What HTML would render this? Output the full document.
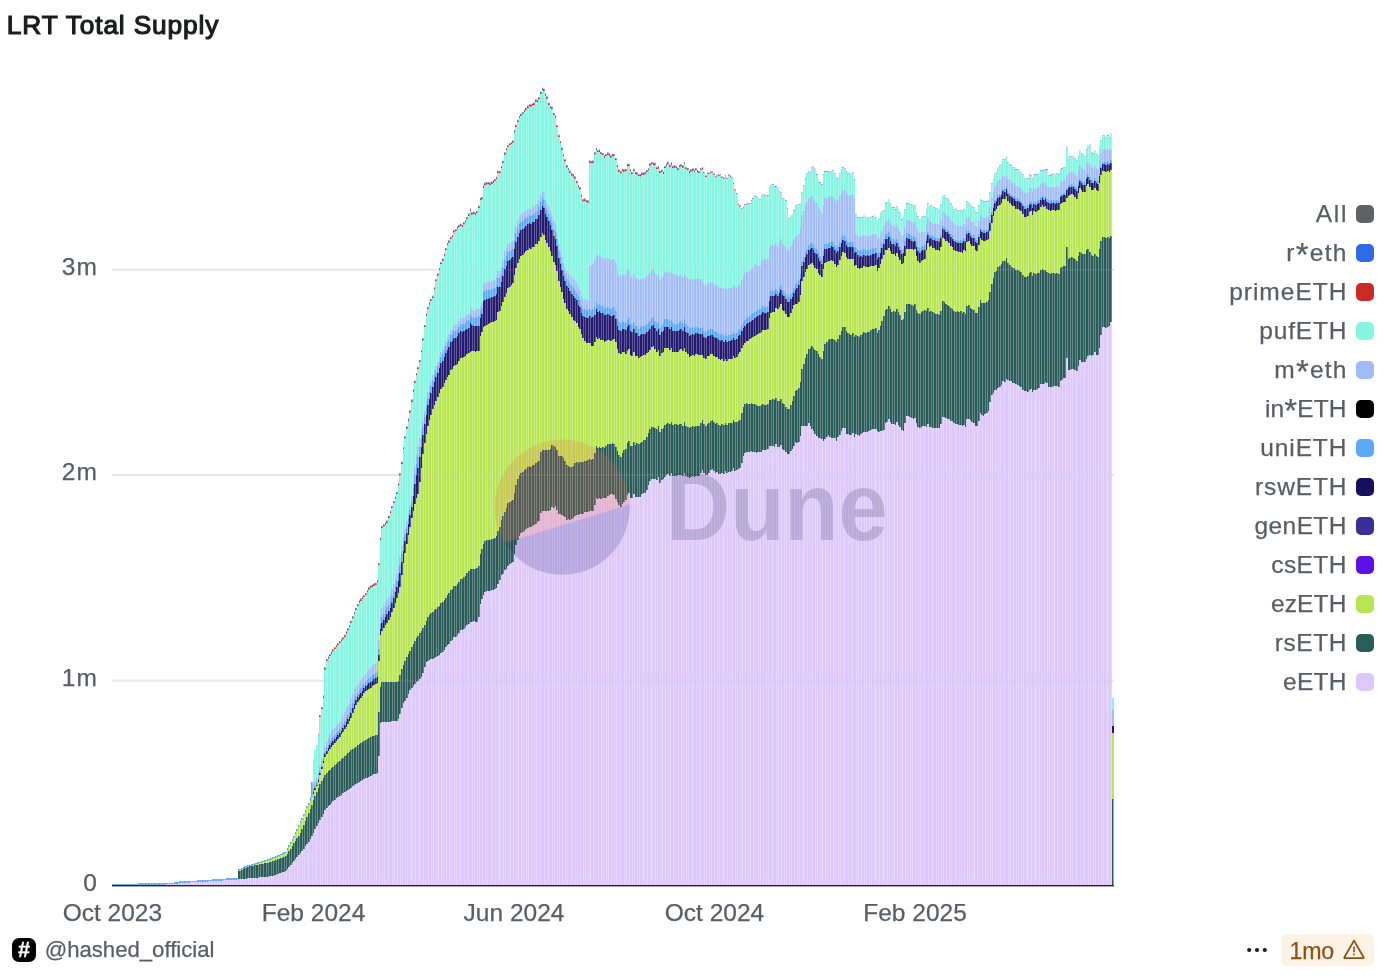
<!DOCTYPE html>
<html lang="en">
<head>
<meta charset="utf-8">
<title>LRT Total Supply</title>
<style>
html,body{margin:0;padding:0;background:#fff;}
body{width:1384px;height:978px;position:relative;overflow:hidden;font-family:"Liberation Sans",sans-serif;color:#5b5d64;}
.chart{position:absolute;left:0;top:0;}
.title{position:absolute;left:6.8px;top:8.3px;font-size:26.3px;font-weight:400;color:#1b1c20;-webkit-text-stroke:1.15px #1b1c20;line-height:34px;white-space:nowrap;letter-spacing:0.85px;}
.yl{position:absolute;right:1287.2px;font-size:24.5px;letter-spacing:1px;margin-right:-1px;line-height:28px;height:28px;white-space:nowrap;text-align:right;}
.xl{position:absolute;top:899px;width:160px;margin-left:-80px;text-align:center;font-size:24.5px;line-height:28px;white-space:nowrap;}
.lg{position:absolute;right:10px;top:194px;}
.li{height:39px;display:flex;align-items:center;justify-content:flex-end;font-size:24.5px;white-space:nowrap;}
.li span{display:inline-block;margin-right:11px;}
.as{font-style:normal;font-size:33px;line-height:0;position:relative;top:5.5px;}
.li,.yl,.xl,.foot{-webkit-text-stroke:0.25px #5b5d64;}
.li i{display:block;width:18px;height:18px;border-radius:5px;}
.foot{position:absolute;left:12px;top:938px;height:24px;display:flex;align-items:center;font-size:22.15px;}
.hash{width:24px;height:24px;border-radius:7px;background:#000;color:#fff;font-weight:700;font-style:italic;font-size:21.5px;line-height:24.5px;text-align:center;margin-right:8.7px;-webkit-text-stroke:0.3px #fff;flex:none;text-indent:-0.5px;}
.dots{position:absolute;left:1246px;top:947px;width:24px;height:6px;}
.badge{position:absolute;left:1281px;top:934px;width:93px;height:32px;border-radius:6px;background:#fcf3e6;color:#8b5313;font-size:23.2px;line-height:32px;-webkit-text-stroke:0.25px #8b5313;}
.badge span{position:absolute;left:8.6px;top:1px;letter-spacing:-0.3px;}
.badge svg{position:absolute;left:61px;top:4.3px;}
</style>
</head>
<body>
<svg class="chart" width="1384" height="978" viewBox="0 0 1384 978">
<defs><clipPath id="cp"><path d="M112,885.8V883.8H115V883.7H123V883.6H131V883.5H138V883.4H146V883.3H151V883.2H154V883.1H158V883.0H159V882.9H163V882.8H166V882.7H169V882.6H172V882.5H174V882.4H177V882.3H179V881.3H180V881.2H182V881.1H184V881.0H187V880.9H189V880.8H190V880.7H192V880.6H195V880.5H197V880.4H198V880.3H200V880.2H202V880.1H203V880.0H205V879.9H207V879.8H208V879.7H210V879.6H212V879.4H213V879.3H215V879.2H216V879.1H218V879.0H220V878.9H221V878.8H223V878.7H225V878.6H226V878.4H228V878.3H229V878.2H231V878.1H233V878.0H234V877.9H236V877.8H238V869.4H239V868.7H241V867.9H243V867.2H244V866.4H246V865.7H247V865.0H249V864.5H251V864.0H252V863.5H254V863.0H256V862.6H257V862.1H259V861.6H261V861.1H262V860.6H264V860.1H265V859.7H267V859.2H269V858.7H270V858.0H272V857.3H274V856.6H275V855.9H277V855.2H279V854.5H280V853.7H282V853.0H283V852.3H285V851.5H287V848.4H288V845.3H290V842.3H292V839.2H293V836.1H295V832.4H296V828.7H298V825.0H300V821.4H301V817.7H303V813.9H305V810.1H306V806.3H308V802.6H310V797.3H311V781.8H313V758.8H314V750.4H316V744.7H318V733.8H319V715.0H321V707.1H323V695.6H324V667.4H326V659.0H328V656.5H329V654.1H331V651.6H332V649.2H334V647.0H336V645.0H337V643.1H339V641.1H341V639.1H342V637.2H344V634.7H346V631.4H347V628.2H349V624.9H350V620.7H352V616.2H354V611.8H355V607.9H357V604.0H359V600.5H360V598.6H362V596.8H363V594.9H365V593.0H367V590.2H368V587.4H370V585.5H372V584.5H373V583.6H375V582.7H377V580.1H378V563.0H380V537.6H381V526.0H383V524.2H385V522.4H386V520.6H388V515.7H390V510.8H391V505.9H393V501.0H395V496.5H396V492.1H398V483.2H399V473.3H401V461.7H403V447.0H404V436.2H406V426.4H408V418.6H409V410.5H411V399.6H413V389.4H414V380.7H416V373.1H417V366.8H419V359.9H421V350.0H422V338.2H424V324.9H426V313.6H427V306.8H429V302.5H430V299.0H432V295.8H434V287.2H435V279.1H437V273.5H439V268.0H440V262.0H442V258.6H444V253.7H445V247.9H447V243.0H448V240.5H450V236.8H452V234.9H453V230.3H455V229.1H457V226.5H458V224.8H460V223.8H462V224.7H463V222.3H465V220.0H466V217.1H468V213.6H470V208.6H471V212.5H473V211.7H475V212.7H476V210.9H478V205.7H480V197.8H481V197.3H483V185.6H484V182.6H486V182.3H488V182.1H489V182.6H491V181.6H493V180.4H494V179.1H496V176.7H497V170.7H499V171.1H501V166.1H502V160.7H504V152.5H506V148.3H507V144.9H509V143.1H511V142.1H512V140.5H514V130.3H515V124.7H517V119.8H519V115.8H520V113.7H522V112.0H524V109.7H525V107.7H527V105.6H529V103.9H530V104.5H532V103.4H533V102.6H535V99.5H537V99.9H538V97.2H540V91.7H542V87.7H543V88.7H545V93.4H546V96.5H548V102.7H550V106.0H551V106.7H553V112.9H555V115.4H556V125.1H558V134.7H560V141.1H561V147.6H563V154.0H564V159.2H566V165.3H568V168.1H569V170.6H571V173.4H573V174.5H574V176.5H576V180.8H578V184.8H579V187.3H581V194.5H582V199.3H584V198.6H586V199.9H587V200.5H589V160.6H591V160.9H592V160.6H594V152.2H596V148.0H597V149.9H599V149.6H600V151.9H602V153.0H604V155.6H605V153.9H607V152.6H609V153.4H610V155.5H612V153.8H613V154.1H615V158.1H617V165.1H618V169.6H620V171.2H622V168.8H623V169.4H625V169.1H627V164.0H628V163.7H630V169.3H631V172.1H633V168.8H635V172.0H636V172.2H638V174.0H640V174.3H641V172.6H643V172.5H645V171.8H646V170.0H648V168.2H649V163.5H651V162.0H653V162.6H654V162.8H656V166.8H658V166.4H659V170.7H661V169.8H663V171.7H664V166.0H666V163.6H667V161.8H669V164.6H671V162.4H672V165.8H674V165.5H676V166.1H677V167.7H679V165.0H680V164.2H682V165.4H684V162.0H685V167.1H687V168.1H689V170.8H690V169.4H692V168.5H694V169.8H695V167.9H697V170.0H698V171.1H700V168.1H702V167.3H703V171.9H705V175.4H707V172.6H708V172.7H710V171.2H712V171.1H713V173.4H715V176.1H716V175.2H718V174.6H720V174.0H721V176.4H723V177.6H725V175.2H726V177.8H728V174.6H730V175.5H731V177.2H733V182.5H734V189.3H736V192.9H738V203.5H739V205.5H741V208.2H743V206.9H744V204.1H746V203.8H747V203.6H749V203.2H751V200.3H752V198.1H754V195.8H756V196.3H757V197.7H759V199.6H761V195.8H762V194.2H764V195.1H765V195.0H767V195.3H769V187.4H770V184.9H772V184.3H774V186.1H775V186.3H777V187.8H779V191.6H780V192.6H782V198.3H783V198.8H785V200.1H787V208.1H788V218.6H790V215.8H792V214.8H793V210.3H795V205.5H796V204.8H798V204.4H800V203.8H801V191.9H803V185.2H805V178.1H806V173.2H808V171.5H810V172.2H811V167.6H813V166.2H814V168.7H816V174.3H818V179.8H819V182.1H821V184.3H823V174.2H824V171.1H826V171.3H828V171.1H829V172.6H831V171.0H832V170.6H834V173.4H836V177.4H837V178.5H839V172.8H841V169.4H842V167.1H844V168.2H846V171.3H847V173.6H849V173.2H850V173.7H852V172.6H854V179.1H855V214.2H857V217.1H859V217.5H860V217.0H862V217.5H863V215.7H865V216.8H867V217.9H868V217.6H870V216.7H872V216.3H873V215.8H875V216.9H877V221.8H878V219.2H880V213.2H881V211.2H883V210.6H885V203.1H886V201.9H888V199.8H890V203.5H891V207.4H893V207.1H895V209.1H896V205.9H898V209.5H899V212.5H901V219.1H903V217.5H904V209.2H906V203.3H908V203.6H909V203.7H911V204.5H913V206.0H914V205.5H916V212.5H917V216.4H919V219.0H921V217.2H922V216.2H924V216.4H926V208.9H927V202.9H929V206.9H930V204.9H932V206.7H934V207.1H935V208.4H937V208.7H939V210.0H940V204.2H942V195.8H944V195.0H945V198.6H947V198.4H948V199.8H950V203.4H952V206.0H953V208.9H955V208.8H957V209.9H958V210.0H962V211.3H963V209.4H965V210.7H966V200.9H968V202.7H970V204.6H971V206.5H973V207.4H975V210.7H976V212.5H978V205.6H980V199.0H981V200.4H983V200.9H986V201.1H988V200.4H989V192.0H991V183.5H993V179.0H994V173.2H996V172.6H997V167.7H999V165.6H1001V164.5H1002V159.6H1004V159.2H1006V157.5H1007V161.9H1009V164.4H1011V165.3H1012V166.9H1014V167.2H1015V169.3H1017V169.6H1019V170.7H1020V172.0H1022V174.4H1024V177.8H1025V178.8H1027V178.1H1029V174.1H1030V175.4H1032V178.2H1033V174.4H1035V174.3H1037V174.2H1038V173.8H1040V170.1H1042V169.5H1043V170.3H1045V169.1H1046V169.3H1048V175.0H1050V175.1H1051V174.1H1053V173.8H1055V174.8H1056V173.2H1058V174.1H1060V168.9H1061V168.3H1063V167.0H1064V166.9H1066V146.8H1068V157.7H1069V156.6H1071V155.8H1073V156.6H1074V158.5H1076V160.0H1078V155.7H1079V150.7H1081V153.2H1082V154.2H1084V156.5H1086V149.3H1087V145.7H1089V144.8H1091V152.4H1092V153.1H1094V150.8H1096V153.5H1097V154.9H1099V146.9H1100V139.9H1102V135.4H1104V135.2H1105V136.8H1107V135.1H1109V136.9H1110V133.7H1112V885.8Z"/></clipPath></defs>
<rect x="112" y="268.70" width="1002" height="2" fill="#e9e9ee"/>
<rect x="112" y="474.00" width="1002" height="2" fill="#e9e9ee"/>
<rect x="112" y="679.65" width="1002" height="2" fill="#e9e9ee"/>
<path d="M318,734.0h1v0.60h-1zM319,715.6h2v1.70h-2zM321,707.7h2v1.70h-2zM323,696.2h1v1.70h-1zM324,668.0h2v1.70h-2zM326,659.6h2v1.70h-2zM328,657.1h1v1.70h-1zM329,654.7h2v1.70h-2zM331,652.2h1v1.70h-1zM332,649.8h2v1.70h-2zM334,647.6h2v1.70h-2zM336,645.6h1v1.70h-1zM337,643.7h2v1.70h-2zM339,641.7h2v1.70h-2zM341,639.7h1v1.70h-1zM342,637.8h2v1.70h-2zM344,635.3h2v1.70h-2zM346,632.0h1v1.70h-1zM347,628.8h2v1.70h-2zM349,625.5h1v1.70h-1zM350,621.3h2v1.70h-2zM352,616.8h2v1.70h-2zM354,612.4h1v1.70h-1zM355,608.5h2v1.70h-2zM357,604.6h2v1.70h-2zM359,601.1h1v1.70h-1zM360,599.2h2v1.70h-2zM362,597.4h1v1.70h-1zM363,595.5h2v1.70h-2zM365,593.6h2v1.70h-2zM367,590.8h1v1.70h-1zM368,588.0h2v1.70h-2zM370,586.1h2v1.70h-2zM372,585.1h1v1.70h-1zM373,584.2h2v1.70h-2zM375,583.3h2v1.70h-2zM377,580.7h1v1.70h-1zM378,563.6h2v1.70h-2zM380,538.2h1v1.70h-1zM381,526.6h2v1.70h-2zM383,524.8h2v1.70h-2zM385,523.0h1v1.70h-1zM386,521.2h2v1.70h-2zM388,516.3h2v1.70h-2zM390,511.4h1v1.70h-1zM391,506.5h2v1.70h-2zM393,501.6h2v1.70h-2zM395,497.1h1v1.70h-1zM396,492.7h2v1.70h-2zM398,483.8h1v1.70h-1zM399,473.9h2v1.70h-2zM401,462.3h2v1.70h-2zM403,447.6h1v1.70h-1zM404,436.8h2v1.70h-2zM406,427.0h2v1.70h-2zM408,419.2h1v1.70h-1zM409,411.1h2v1.70h-2zM411,400.2h2v1.70h-2zM413,390.0h1v1.70h-1zM414,381.3h2v1.70h-2zM416,373.7h1v1.70h-1zM417,367.4h2v1.70h-2zM419,360.5h2v1.70h-2zM421,350.6h1v1.70h-1zM422,338.8h2v1.70h-2zM424,325.5h2v1.70h-2zM426,314.2h1v1.70h-1zM427,307.4h2v1.70h-2zM429,303.1h1v1.70h-1zM430,299.6h2v1.70h-2zM432,296.4h2v1.70h-2zM434,287.8h1v1.70h-1zM435,279.7h2v1.70h-2zM437,274.1h2v1.70h-2zM439,268.6h1v1.70h-1zM440,262.6h2v1.70h-2zM442,259.2h2v1.70h-2zM444,254.3h1v1.70h-1zM445,248.5h2v1.70h-2zM447,243.6h1v1.70h-1zM448,241.1h2v1.70h-2zM450,237.4h2v1.70h-2zM452,235.5h1v1.70h-1zM453,230.9h2v1.70h-2zM455,229.7h2v1.70h-2zM457,227.1h1v1.70h-1zM458,225.4h2v1.70h-2zM460,224.4h2v1.70h-2zM462,225.3h1v1.70h-1zM463,222.9h2v1.70h-2zM465,220.6h1v1.70h-1zM466,217.7h2v1.70h-2zM468,214.2h2v1.70h-2zM470,209.2h1v1.70h-1zM471,213.1h2v1.70h-2zM473,212.3h2v1.70h-2zM475,213.3h1v1.70h-1zM476,211.5h2v1.70h-2zM478,206.3h2v1.70h-2zM480,198.4h1v1.70h-1zM481,197.9h2v1.70h-2zM483,186.2h1v1.70h-1zM484,183.2h2v1.70h-2zM486,182.9h2v1.70h-2zM488,182.7h1v1.70h-1zM489,183.2h2v1.70h-2zM491,182.2h2v1.70h-2zM493,181.0h1v1.70h-1zM494,179.7h2v1.70h-2zM496,177.3h1v1.70h-1zM497,171.3h2v1.70h-2zM499,171.7h2v1.70h-2zM501,166.7h1v1.70h-1zM502,161.3h2v1.70h-2zM504,153.1h2v1.70h-2zM506,148.9h1v1.70h-1zM507,145.5h2v1.70h-2zM509,143.7h2v1.70h-2zM511,142.7h1v1.70h-1zM512,141.1h2v1.70h-2zM514,130.9h1v1.70h-1zM515,125.3h2v1.70h-2zM517,120.4h2v1.70h-2zM519,116.4h1v1.70h-1zM520,114.3h2v1.70h-2zM522,112.6h2v1.70h-2zM524,110.3h1v1.70h-1zM525,108.3h2v1.70h-2zM527,106.2h2v1.70h-2zM529,104.5h1v1.70h-1zM530,105.1h2v1.70h-2zM532,104.0h1v1.70h-1zM533,103.2h2v1.70h-2zM535,100.1h2v1.70h-2zM537,100.5h1v1.70h-1zM538,97.8h2v1.70h-2zM540,92.3h2v1.70h-2zM542,88.3h1v1.70h-1zM543,89.3h2v1.70h-2zM545,94.0h1v1.70h-1zM546,97.1h2v1.70h-2zM548,103.3h2v1.70h-2zM550,106.6h1v1.70h-1zM551,107.3h2v1.70h-2zM553,113.5h2v1.70h-2zM555,116.0h1v1.70h-1zM556,125.7h2v1.70h-2zM558,135.3h2v1.70h-2zM560,141.7h1v1.70h-1zM561,148.2h2v1.70h-2zM563,154.6h1v1.70h-1zM564,159.8h2v1.70h-2zM566,165.9h2v1.70h-2zM568,168.7h1v1.70h-1zM569,171.2h2v1.70h-2zM571,174.0h2v1.70h-2zM573,175.1h1v1.70h-1zM574,177.1h2v1.70h-2zM576,181.4h2v1.70h-2zM578,185.4h1v1.70h-1zM579,187.9h2v1.70h-2zM581,195.1h1v1.70h-1zM582,199.9h2v1.70h-2zM584,199.2h2v1.70h-2zM586,200.5h1v1.70h-1zM587,201.1h2v1.70h-2zM589,161.2h2v1.70h-2zM591,161.5h1v1.70h-1zM592,161.2h2v1.70h-2zM594,152.8h2v1.70h-2zM596,148.6h1v1.70h-1zM597,150.5h2v1.70h-2zM599,150.2h1v1.70h-1zM600,152.5h2v1.70h-2zM602,153.6h2v1.70h-2zM604,156.2h1v1.70h-1zM605,154.5h2v1.70h-2zM607,153.2h2v1.70h-2zM609,154.0h1v1.70h-1zM610,156.1h2v1.70h-2zM612,154.4h1v1.70h-1zM613,154.7h2v1.70h-2zM615,158.7h2v1.70h-2zM617,165.7h1v1.70h-1zM618,170.2h2v1.70h-2zM620,171.8h2v1.70h-2zM622,169.4h1v1.70h-1zM623,170.0h2v1.70h-2zM625,169.7h2v1.70h-2zM627,164.6h1v1.70h-1zM628,164.3h2v1.70h-2zM630,169.9h1v1.70h-1zM631,172.7h2v1.70h-2zM633,169.4h2v1.70h-2zM635,172.6h1v1.70h-1zM636,172.8h2v1.70h-2zM638,174.6h2v1.70h-2zM640,174.9h1v1.70h-1zM641,173.2h2v1.70h-2zM643,173.1h2v1.70h-2zM645,172.4h1v1.70h-1zM646,170.6h2v1.70h-2zM648,168.8h1v1.70h-1zM649,164.1h2v1.70h-2zM651,162.6h2v1.70h-2zM653,163.2h1v1.70h-1zM654,163.4h2v1.70h-2zM656,167.4h2v1.70h-2zM658,167.0h1v1.70h-1zM659,171.3h2v1.70h-2zM661,170.4h2v1.70h-2zM663,172.3h1v1.70h-1zM664,166.6h2v1.70h-2zM666,164.2h1v1.70h-1zM667,162.4h2v1.70h-2zM669,165.2h2v1.70h-2zM671,163.0h1v1.70h-1zM672,166.4h2v1.70h-2zM674,166.1h2v1.70h-2zM676,166.7h1v1.70h-1zM677,168.3h2v1.70h-2zM679,165.6h1v1.70h-1zM680,164.8h2v1.70h-2zM682,166.0h2v1.70h-2zM684,162.6h1v1.70h-1zM685,167.7h2v1.70h-2zM687,168.7h2v1.70h-2zM689,171.4h1v1.70h-1zM690,170.0h2v1.64h-2zM692,169.1h2v1.56h-2zM694,170.4h1v1.47h-1zM695,168.5h2v1.39h-2zM697,170.6h1v1.31h-1zM698,171.7h2v1.23h-2zM700,168.7h2v1.15h-2zM702,167.9h1v1.07h-1zM703,172.5h2v0.98h-2zM705,176.0h2v0.90h-2zM707,173.2h1v0.88h-1zM708,173.3h2v0.87h-2zM710,171.8h2v0.85h-2zM712,171.7h1v0.83h-1zM713,174.0h2v0.82h-2zM715,176.7h1v0.80h-1zM716,175.8h2v0.78h-2zM718,175.2h2v0.77h-2zM720,174.6h1v0.75h-1zM721,177.0h2v0.73h-2zM723,178.2h2v0.72h-2zM725,175.8h1v0.70h-1zM726,178.4h2v0.68h-2zM728,175.2h2v0.67h-2zM730,176.1h1v0.65h-1zM731,177.8h2v0.63h-2zM733,183.1h1v0.62h-1zM734,189.9h2v0.60h-2zM736,193.5h2v0.58h-2zM738,204.1h1v0.57h-1zM739,206.1h2v0.55h-2zM741,208.8h2v0.53h-2zM743,207.5h1v0.51h-1zM744,204.7h2v0.49h-2zM746,204.4h1v0.44h-1zM747,204.2h2v0.39h-2zM749,203.8h2v0.33h-2zM751,200.9h1v0.28h-1zM752,198.7h2v0.22h-2zM754,196.4h2v0.17h-2zM756,196.9h1v0.11h-1zM757,198.3h2v0.06h-2z" fill="#cc2a27"/><path d="M318,733.8h1v0.21h-1zM319,715.0h2v0.60h-2zM321,707.1h2v0.60h-2zM323,695.6h1v0.60h-1zM324,667.4h2v0.60h-2zM326,659.0h2v0.60h-2zM328,656.5h1v0.60h-1zM329,654.1h2v0.60h-2zM331,651.6h1v0.60h-1zM332,649.2h2v0.60h-2zM334,647.0h2v0.60h-2zM336,645.0h1v0.60h-1zM337,643.1h2v0.60h-2zM339,641.1h2v0.60h-2zM341,639.1h1v0.60h-1zM342,637.2h2v0.60h-2zM344,634.7h2v0.60h-2zM346,631.4h1v0.60h-1zM347,628.2h2v0.60h-2zM349,624.9h1v0.60h-1zM350,620.7h2v0.60h-2zM352,616.2h2v0.60h-2zM354,611.8h1v0.60h-1zM355,607.9h2v0.60h-2zM357,604.0h2v0.60h-2zM359,600.5h1v0.60h-1zM360,598.6h2v0.60h-2zM362,596.8h1v0.60h-1zM363,594.9h2v0.60h-2zM365,593.0h2v0.60h-2zM367,590.2h1v0.60h-1zM368,587.4h2v0.60h-2zM370,585.5h2v0.60h-2zM372,584.5h1v0.60h-1zM373,583.6h2v0.60h-2zM375,582.7h2v0.60h-2zM377,580.1h1v0.60h-1zM378,563.0h2v0.60h-2zM380,537.6h1v0.60h-1zM381,526.0h2v0.60h-2zM383,524.2h2v0.60h-2zM385,522.4h1v0.60h-1zM386,520.6h2v0.60h-2zM388,515.7h2v0.60h-2zM390,510.8h1v0.60h-1zM391,505.9h2v0.60h-2zM393,501.0h2v0.60h-2zM395,496.5h1v0.60h-1zM396,492.1h2v0.60h-2zM398,483.2h1v0.60h-1zM399,473.3h2v0.60h-2zM401,461.7h2v0.60h-2zM403,447.0h1v0.60h-1zM404,436.2h2v0.60h-2zM406,426.4h2v0.60h-2zM408,418.6h1v0.60h-1zM409,410.5h2v0.60h-2zM411,399.6h2v0.60h-2zM413,389.4h1v0.60h-1zM414,380.7h2v0.60h-2zM416,373.1h1v0.60h-1zM417,366.8h2v0.60h-2zM419,359.9h2v0.60h-2zM421,350.0h1v0.60h-1zM422,338.2h2v0.60h-2zM424,324.9h2v0.60h-2zM426,313.6h1v0.60h-1zM427,306.8h2v0.60h-2zM429,302.5h1v0.60h-1zM430,299.0h2v0.60h-2zM432,295.8h2v0.60h-2zM434,287.2h1v0.60h-1zM435,279.1h2v0.60h-2zM437,273.5h2v0.60h-2zM439,268.0h1v0.60h-1zM440,262.0h2v0.60h-2zM442,258.6h2v0.60h-2zM444,253.7h1v0.60h-1zM445,247.9h2v0.60h-2zM447,243.0h1v0.60h-1zM448,240.5h2v0.60h-2zM450,236.8h2v0.60h-2zM452,234.9h1v0.60h-1zM453,230.3h2v0.60h-2zM455,229.1h2v0.60h-2zM457,226.5h1v0.60h-1zM458,224.8h2v0.60h-2zM460,223.8h2v0.60h-2zM462,224.7h1v0.60h-1zM463,222.3h2v0.60h-2zM465,220.0h1v0.60h-1zM466,217.1h2v0.60h-2zM468,213.6h2v0.60h-2zM470,208.6h1v0.60h-1zM471,212.5h2v0.60h-2zM473,211.7h2v0.60h-2zM475,212.7h1v0.60h-1zM476,210.9h2v0.60h-2zM478,205.7h2v0.60h-2zM480,197.8h1v0.60h-1zM481,197.3h2v0.60h-2zM483,185.6h1v0.60h-1zM484,182.6h2v0.60h-2zM486,182.3h2v0.60h-2zM488,182.1h1v0.60h-1zM489,182.6h2v0.60h-2zM491,181.6h2v0.60h-2zM493,180.4h1v0.60h-1zM494,179.1h2v0.60h-2zM496,176.7h1v0.60h-1zM497,170.7h2v0.60h-2zM499,171.1h2v0.60h-2zM501,166.1h1v0.60h-1zM502,160.7h2v0.60h-2zM504,152.5h2v0.60h-2zM506,148.3h1v0.60h-1zM507,144.9h2v0.60h-2zM509,143.1h2v0.60h-2zM511,142.1h1v0.60h-1zM512,140.5h2v0.60h-2zM514,130.3h1v0.60h-1zM515,124.7h2v0.60h-2zM517,119.8h2v0.60h-2zM519,115.8h1v0.60h-1zM520,113.7h2v0.60h-2zM522,112.0h2v0.60h-2zM524,109.7h1v0.60h-1zM525,107.7h2v0.60h-2zM527,105.6h2v0.60h-2zM529,103.9h1v0.60h-1zM530,104.5h2v0.60h-2zM532,103.4h1v0.60h-1zM533,102.6h2v0.60h-2zM535,99.5h2v0.60h-2zM537,99.9h1v0.60h-1zM538,97.2h2v0.60h-2zM540,91.7h2v0.60h-2zM542,87.7h1v0.60h-1zM543,88.7h2v0.60h-2zM545,93.4h1v0.60h-1zM546,96.5h2v0.60h-2zM548,102.7h2v0.60h-2zM550,106.0h1v0.60h-1zM551,106.7h2v0.60h-2zM553,112.9h2v0.60h-2zM555,115.4h1v0.60h-1zM556,125.1h2v0.60h-2zM558,134.7h2v0.60h-2zM560,141.1h1v0.60h-1zM561,147.6h2v0.60h-2zM563,154.0h1v0.60h-1zM564,159.2h2v0.60h-2zM566,165.3h2v0.60h-2zM568,168.1h1v0.60h-1zM569,170.6h2v0.60h-2zM571,173.4h2v0.60h-2zM573,174.5h1v0.60h-1zM574,176.5h2v0.60h-2zM576,180.8h2v0.60h-2zM578,184.8h1v0.60h-1zM579,187.3h2v0.60h-2zM581,194.5h1v0.60h-1zM582,199.3h2v0.60h-2zM584,198.6h2v0.60h-2zM586,199.9h1v0.60h-1zM587,200.5h2v0.60h-2zM589,160.6h2v0.60h-2zM591,160.9h1v0.60h-1zM592,160.6h2v0.60h-2zM594,152.2h2v0.60h-2zM596,148.0h1v0.60h-1zM597,149.9h2v0.60h-2zM599,149.6h1v0.60h-1zM600,151.9h2v0.60h-2zM602,153.0h2v0.60h-2zM604,155.6h1v0.60h-1zM605,153.9h2v0.60h-2zM607,152.6h2v0.60h-2zM609,153.4h1v0.60h-1zM610,155.5h2v0.60h-2zM612,153.8h1v0.60h-1zM613,154.1h2v0.60h-2zM615,158.1h2v0.60h-2zM617,165.1h1v0.60h-1zM618,169.6h2v0.60h-2zM620,171.2h2v0.60h-2zM622,168.8h1v0.60h-1zM623,169.4h2v0.60h-2zM625,169.1h2v0.60h-2zM627,164.0h1v0.60h-1zM628,163.7h2v0.60h-2zM630,169.3h1v0.60h-1zM631,172.1h2v0.60h-2zM633,168.8h2v0.60h-2zM635,172.0h1v0.60h-1zM636,172.2h2v0.60h-2zM638,174.0h2v0.60h-2zM640,174.3h1v0.60h-1zM641,172.6h2v0.60h-2zM643,172.5h2v0.60h-2zM645,171.8h1v0.60h-1zM646,170.0h2v0.60h-2zM648,168.2h1v0.60h-1zM649,163.5h2v0.60h-2zM651,162.0h2v0.60h-2zM653,162.6h1v0.60h-1zM654,162.8h2v0.60h-2zM656,166.8h2v0.60h-2zM658,166.4h1v0.60h-1zM659,170.7h2v0.60h-2zM661,169.8h2v0.60h-2zM663,171.7h1v0.60h-1zM664,166.0h2v0.60h-2zM666,163.6h1v0.60h-1zM667,161.8h2v0.60h-2zM669,164.6h2v0.60h-2zM671,162.4h1v0.60h-1zM672,165.8h2v0.60h-2zM674,165.5h2v0.60h-2zM676,166.1h1v0.60h-1zM677,167.7h2v0.60h-2zM679,165.0h1v0.60h-1zM680,164.2h2v0.60h-2zM682,165.4h2v0.60h-2zM684,162.0h1v0.60h-1zM685,167.1h2v0.60h-2zM687,168.1h2v0.60h-2zM689,170.8h1v0.60h-1zM690,169.4h2v0.60h-2zM692,168.5h2v0.60h-2zM694,169.8h1v0.60h-1zM695,167.9h2v0.60h-2zM697,170.0h1v0.60h-1zM698,171.1h2v0.60h-2zM700,168.1h2v0.60h-2zM702,167.3h1v0.60h-1zM703,171.9h2v0.60h-2zM705,175.4h2v0.60h-2zM707,172.6h1v0.60h-1zM708,172.7h2v0.60h-2zM710,171.2h2v0.60h-2zM712,171.1h1v0.60h-1zM713,173.4h2v0.60h-2zM715,176.1h1v0.60h-1zM716,175.2h2v0.60h-2zM718,174.6h2v0.60h-2zM720,174.0h1v0.60h-1zM721,176.4h2v0.60h-2zM723,177.6h2v0.60h-2zM725,175.2h1v0.60h-1zM726,177.8h2v0.60h-2zM728,174.6h2v0.60h-2zM730,175.5h1v0.60h-1zM731,177.2h2v0.60h-2zM733,182.5h1v0.60h-1zM734,189.3h2v0.60h-2zM736,192.9h2v0.60h-2zM738,203.5h1v0.60h-1zM739,205.5h2v0.60h-2zM741,208.2h2v0.60h-2zM743,206.9h1v0.60h-1zM744,204.1h2v0.60h-2zM746,203.8h1v0.60h-1zM747,203.6h2v0.60h-2zM749,203.2h2v0.60h-2zM751,200.3h1v0.60h-1zM752,198.1h2v0.60h-2zM754,195.8h2v0.60h-2zM756,196.3h1v0.60h-1zM757,197.7h2v0.60h-2zM759,199.6h2v0.60h-2zM761,195.8h1v0.60h-1zM762,194.2h2v0.60h-2zM764,195.1h1v0.60h-1zM765,195.0h2v0.60h-2zM767,195.3h2v0.60h-2zM769,187.4h1v0.60h-1zM770,184.9h2v0.60h-2zM772,184.3h2v0.60h-2zM774,186.1h1v0.60h-1zM775,186.3h2v0.60h-2zM777,187.8h2v0.60h-2zM779,191.6h1v0.60h-1zM780,192.6h2v0.60h-2zM782,198.3h1v0.60h-1zM783,198.8h2v0.60h-2zM785,200.1h2v0.60h-2zM787,208.1h1v0.60h-1zM788,218.6h2v0.60h-2zM790,215.8h2v0.60h-2zM792,214.8h1v0.60h-1zM793,210.3h2v0.60h-2zM795,205.5h1v0.60h-1zM796,204.8h2v0.60h-2zM798,204.4h2v0.60h-2zM800,203.8h1v0.60h-1zM801,191.9h2v0.60h-2zM803,185.2h2v0.60h-2zM805,178.1h1v0.60h-1zM806,173.2h2v0.60h-2zM808,171.5h2v0.60h-2zM810,172.2h1v0.60h-1zM811,167.6h2v0.60h-2zM813,166.2h1v0.60h-1zM814,168.7h2v0.60h-2zM816,174.3h2v0.60h-2zM818,179.8h1v0.60h-1zM819,182.1h2v0.60h-2zM821,184.3h2v0.60h-2zM823,174.2h1v0.60h-1zM824,171.1h2v0.60h-2zM826,171.3h2v0.60h-2zM828,171.1h1v0.60h-1zM829,172.6h2v0.60h-2zM831,171.0h1v0.60h-1zM832,170.6h2v0.60h-2zM834,173.4h2v0.60h-2zM836,177.4h1v0.60h-1zM837,178.5h2v0.60h-2zM839,172.8h2v0.60h-2zM841,169.4h1v0.60h-1zM842,167.1h2v0.60h-2zM844,168.2h2v0.60h-2zM846,171.3h1v0.60h-1zM847,173.6h2v0.60h-2zM849,173.2h1v0.60h-1zM850,173.7h2v0.60h-2zM852,172.6h2v0.60h-2zM854,179.1h1v0.60h-1zM855,214.2h2v0.60h-2zM857,217.1h2v0.60h-2zM859,217.5h1v0.60h-1zM860,217.0h2v0.60h-2zM862,217.5h1v0.60h-1zM863,215.7h2v0.60h-2zM865,216.8h2v0.60h-2zM867,217.9h1v0.60h-1zM868,217.6h2v0.60h-2zM870,216.7h2v0.60h-2zM872,216.3h1v0.60h-1zM873,215.8h2v0.60h-2zM875,216.9h2v0.60h-2zM877,221.8h1v0.60h-1zM878,219.2h2v0.60h-2zM880,213.2h1v0.60h-1zM881,211.2h2v0.60h-2zM883,210.6h2v0.60h-2zM885,203.1h1v0.60h-1zM886,201.9h2v0.60h-2zM888,199.8h2v0.60h-2zM890,203.5h1v0.60h-1zM891,207.4h2v0.60h-2zM893,207.1h2v0.60h-2zM895,209.1h1v0.60h-1zM896,205.9h2v0.60h-2zM898,209.5h1v0.60h-1zM899,212.5h2v0.60h-2zM901,219.1h2v0.60h-2zM903,217.5h1v0.60h-1zM904,209.2h2v0.60h-2zM906,203.3h2v0.60h-2zM908,203.6h1v0.60h-1zM909,203.7h2v0.60h-2zM911,204.5h2v0.60h-2zM913,206.0h1v0.60h-1zM914,205.5h2v0.60h-2zM916,212.5h1v0.60h-1zM917,216.4h2v0.60h-2zM919,219.0h2v0.60h-2zM921,217.2h1v0.60h-1zM922,216.2h2v0.60h-2zM924,216.4h2v0.60h-2zM926,208.9h1v0.60h-1zM927,202.9h2v0.60h-2zM929,206.9h1v0.60h-1zM930,204.9h2v0.60h-2zM932,206.7h2v0.60h-2zM934,207.1h1v0.60h-1zM935,208.4h2v0.60h-2zM937,208.7h2v0.60h-2zM939,210.0h1v0.60h-1zM940,204.2h2v0.60h-2zM942,195.8h2v0.60h-2zM944,195.0h1v0.60h-1zM945,198.6h2v0.60h-2zM947,198.4h1v0.60h-1zM948,199.8h2v0.60h-2zM950,203.4h2v0.60h-2zM952,206.0h1v0.60h-1zM953,208.9h2v0.60h-2zM955,208.8h2v0.60h-2zM957,209.9h1v0.60h-1zM958,210.0h2v0.60h-2zM960,210.0h2v0.60h-2zM962,211.3h1v0.60h-1zM963,209.4h2v0.60h-2zM965,210.7h1v0.60h-1zM966,200.9h2v0.60h-2zM968,202.7h2v0.60h-2zM970,204.6h1v0.60h-1zM971,206.5h2v0.60h-2zM973,207.4h2v0.60h-2zM975,210.7h1v0.60h-1zM976,212.5h2v0.60h-2zM978,205.6h2v0.60h-2zM980,199.0h1v0.60h-1zM981,200.4h2v0.60h-2zM983,200.9h1v0.60h-1zM984,200.9h2v0.60h-2zM986,201.1h2v0.60h-2zM988,200.4h1v0.60h-1zM989,192.0h2v0.60h-2zM991,183.5h2v0.60h-2zM993,179.0h1v0.60h-1zM994,173.2h2v0.60h-2zM996,172.6h1v0.60h-1zM997,167.7h2v0.60h-2zM999,165.6h2v0.60h-2zM1001,164.5h1v0.60h-1zM1002,159.6h2v0.60h-2zM1004,159.2h2v0.60h-2zM1006,157.5h1v0.60h-1zM1007,161.9h2v0.60h-2zM1009,164.4h2v0.60h-2zM1011,165.3h1v0.60h-1zM1012,166.9h2v0.60h-2zM1014,167.2h1v0.60h-1zM1015,169.3h2v0.60h-2zM1017,169.6h2v0.60h-2zM1019,170.7h1v0.60h-1zM1020,172.0h2v0.60h-2zM1022,174.4h2v0.60h-2zM1024,177.8h1v0.60h-1zM1025,178.8h2v0.60h-2zM1027,178.1h2v0.60h-2zM1029,174.1h1v0.60h-1zM1030,175.4h2v0.60h-2zM1032,178.2h1v0.60h-1zM1033,174.4h2v0.60h-2zM1035,174.3h2v0.60h-2zM1037,174.2h1v0.60h-1zM1038,173.8h2v0.60h-2zM1040,170.1h2v0.60h-2zM1042,169.5h1v0.60h-1zM1043,170.3h2v0.60h-2zM1045,169.1h1v0.60h-1zM1046,169.3h2v0.60h-2zM1048,175.0h2v0.60h-2zM1050,175.1h1v0.60h-1zM1051,174.1h2v0.60h-2zM1053,173.8h2v0.60h-2zM1055,174.8h1v0.60h-1zM1056,173.2h2v0.60h-2zM1058,174.1h2v0.60h-2zM1060,168.9h1v0.60h-1zM1061,168.3h2v0.60h-2zM1063,167.0h1v0.60h-1zM1064,166.9h2v0.60h-2zM1066,146.8h2v0.60h-2zM1068,157.7h1v0.60h-1zM1069,156.6h2v0.60h-2zM1071,155.8h2v0.60h-2zM1073,156.6h1v0.60h-1zM1074,158.5h2v0.60h-2zM1076,160.0h2v0.60h-2zM1078,155.7h1v0.60h-1zM1079,150.7h2v0.60h-2zM1081,153.2h1v0.60h-1zM1082,154.2h2v0.60h-2zM1084,156.5h2v0.60h-2zM1086,149.3h1v0.60h-1zM1087,145.7h2v0.60h-2zM1089,144.8h2v0.60h-2zM1091,152.4h1v0.60h-1zM1092,153.1h2v0.60h-2zM1094,150.8h2v0.60h-2zM1096,153.5h1v0.60h-1zM1097,154.9h2v0.60h-2zM1099,146.9h1v0.60h-1zM1100,139.9h2v0.60h-2zM1102,135.4h2v0.60h-2zM1104,135.2h1v0.60h-1zM1105,136.8h2v0.60h-2zM1107,135.1h2v0.60h-2zM1109,136.9h1v0.60h-1zM1110,133.7h2v0.60h-2z" fill="#5b74e6"/>
<g shape-rendering="crispEdges">
<path d="M112,885.8V883.8H115V883.7H123V883.6H131V883.5H138V883.4H146V883.3H151V883.2H154V883.1H158V883.0H159V882.9H163V882.8H166V882.7H169V882.6H172V882.5H174V882.4H177V882.3H179V881.3H180V881.2H182V881.1H184V881.0H187V880.9H189V880.8H190V880.7H192V880.6H195V880.5H197V880.4H198V880.3H200V880.2H202V880.1H203V880.0H205V879.9H207V879.8H208V879.7H210V879.6H212V879.4H213V879.3H215V879.2H216V879.1H218V879.0H220V878.9H221V878.8H223V878.7H225V878.6H226V878.4H228V878.3H229V878.2H231V878.1H233V878.0H234V877.9H236V877.8H238V869.4H239V868.7H241V867.9H243V867.2H244V866.4H246V865.7H247V865.0H249V864.5H251V864.0H252V863.5H254V863.0H256V862.6H257V862.1H259V861.6H261V861.1H262V860.6H264V860.1H265V859.7H267V859.2H269V858.7H270V858.0H272V857.3H274V856.6H275V855.9H277V855.2H279V854.5H280V853.7H282V853.0H283V852.3H285V851.5H287V848.4H288V845.3H290V842.3H292V839.2H293V836.1H295V832.4H296V828.7H298V825.0H300V821.4H301V817.7H303V813.9H305V810.1H306V806.3H308V802.6H310V797.3H311V781.8H313V758.8H314V750.4H316V744.7H318V734.6H319V717.3H321V709.4H323V697.9H324V669.7H326V661.3H328V658.8H329V656.4H331V653.9H332V651.5H334V649.3H336V647.3H337V645.4H339V643.4H341V641.4H342V639.5H344V637.0H346V633.7H347V630.5H349V627.2H350V623.0H352V618.5H354V614.1H355V610.2H357V606.3H359V602.8H360V600.9H362V599.1H363V597.2H365V595.3H367V592.5H368V589.7H370V587.8H372V586.8H373V585.9H375V585.0H377V582.4H378V565.3H380V539.9H381V528.3H383V526.5H385V524.7H386V522.9H388V518.0H390V513.1H391V508.2H393V503.3H395V498.8H396V494.4H398V485.5H399V475.6H401V464.0H403V449.3H404V438.5H406V428.7H408V420.9H409V412.8H411V401.9H413V391.7H414V383.0H416V375.4H417V369.1H419V362.2H421V352.3H422V340.5H424V327.2H426V315.9H427V309.1H429V304.8H430V301.3H432V298.1H434V289.5H435V281.4H437V275.8H439V270.3H440V264.3H442V260.9H444V256.0H445V250.2H447V245.3H448V242.8H450V239.1H452V237.2H453V232.6H455V231.4H457V228.8H458V227.1H460V226.1H462V227.0H463V224.6H465V222.3H466V219.4H468V215.9H470V210.9H471V214.8H473V214.0H475V215.0H476V213.2H478V208.0H480V200.1H481V199.6H483V187.9H484V184.9H486V184.6H488V184.4H489V184.9H491V183.9H493V182.7H494V181.4H496V179.0H497V173.0H499V173.4H501V168.4H502V163.0H504V154.8H506V150.6H507V147.2H509V145.4H511V144.4H512V142.8H514V132.6H515V127.0H517V122.1H519V118.1H520V116.0H522V114.3H524V112.0H525V110.0H527V107.9H529V106.2H530V106.8H532V105.7H533V104.9H535V101.8H537V102.2H538V99.5H540V94.0H542V90.0H543V91.0H545V95.7H546V98.8H548V105.0H550V108.3H551V109.0H553V115.2H555V117.7H556V127.4H558V137.0H560V143.4H561V149.9H563V156.3H564V161.5H566V167.6H568V170.4H569V172.9H571V175.7H573V176.8H574V178.8H576V183.1H578V187.1H579V189.6H581V196.8H582V201.6H584V200.9H586V202.2H587V202.8H589V162.9H591V163.2H592V162.9H594V154.5H596V150.3H597V152.2H599V151.9H600V154.2H602V155.3H604V157.9H605V156.2H607V154.9H609V155.7H610V157.8H612V156.1H613V156.4H615V160.4H617V167.4H618V171.9H620V173.5H622V171.1H623V171.7H625V171.4H627V166.3H628V166.0H630V171.6H631V174.4H633V171.1H635V174.3H636V174.5H638V176.3H640V176.6H641V174.9H643V174.8H645V174.1H646V172.3H648V170.5H649V165.8H651V164.3H653V164.9H654V165.1H656V169.1H658V168.7H659V173.0H661V172.1H663V174.0H664V168.3H666V165.9H667V164.1H669V166.9H671V164.7H672V168.1H674V167.8H676V168.4H677V170.0H679V167.3H680V166.5H682V167.7H684V164.3H685V169.4H687V170.4H689V173.1H690V171.6H692V170.7H694V171.9H695V169.8H697V171.9H698V173.0H700V169.8H702V169.0H703V173.5H705V176.9H707V174.1H710V172.6H713V174.8H715V177.5H716V176.6H718V175.9H720V175.3H721V177.7H723V178.9H725V176.5H726V179.1H728V175.8H730V176.8H731V178.4H733V183.7H734V190.5H736V194.0H738V204.7H739V206.7H741V209.3H743V208.0H744V205.2H746V204.9H747V204.5H749V204.1H751V201.2H752V198.9H754V196.6H756V197.0H757V198.4H759V200.2H761V196.4H762V194.8H764V195.7H765V195.6H767V195.9H769V188.0H770V185.5H772V184.9H774V186.7H775V186.9H777V188.4H779V192.2H780V193.2H782V198.9H783V199.4H785V200.7H787V208.7H788V219.2H790V216.4H792V215.4H793V210.9H795V206.1H796V205.4H798V205.0H800V204.4H801V192.5H803V185.8H805V178.7H806V173.8H808V172.1H810V172.8H811V168.2H813V166.8H814V169.3H816V174.9H818V180.4H819V182.7H821V184.9H823V174.8H824V171.7H826V171.9H828V171.7H829V173.2H831V171.6H832V171.2H834V174.0H836V178.0H837V179.1H839V173.4H841V170.0H842V167.7H844V168.8H846V171.9H847V174.2H849V173.8H850V174.3H852V173.2H854V179.7H855V214.8H857V217.7H859V218.1H860V217.6H862V218.1H863V216.3H865V217.4H867V218.5H868V218.2H870V217.3H872V216.9H873V216.4H875V217.5H877V222.4H878V219.8H880V213.8H881V211.8H883V211.2H885V203.7H886V202.5H888V200.4H890V204.1H891V208.0H893V207.7H895V209.7H896V206.5H898V210.1H899V213.1H901V219.7H903V218.1H904V209.8H906V203.9H908V204.2H909V204.3H911V205.1H913V206.6H914V206.1H916V213.1H917V217.0H919V219.6H921V217.8H922V216.8H924V217.0H926V209.5H927V203.5H929V207.5H930V205.5H932V207.3H934V207.7H935V209.0H937V209.3H939V210.6H940V204.8H942V196.4H944V195.6H945V199.2H947V199.0H948V200.4H950V204.0H952V206.6H953V209.5H955V209.4H957V210.5H958V210.6H962V211.9H963V210.0H965V211.3H966V201.5H968V203.3H970V205.2H971V207.1H973V208.0H975V211.3H976V213.1H978V206.2H980V199.6H981V201.0H983V201.5H986V201.7H988V201.0H989V192.6H991V184.1H993V179.6H994V173.8H996V173.2H997V168.3H999V166.2H1001V165.1H1002V160.2H1004V159.8H1006V158.1H1007V162.5H1009V165.0H1011V165.9H1012V167.5H1014V167.8H1015V169.9H1017V170.2H1019V171.3H1020V172.6H1022V175.0H1024V178.4H1025V179.4H1027V178.7H1029V174.7H1030V176.0H1032V178.8H1033V175.0H1035V174.9H1037V174.8H1038V174.4H1040V170.7H1042V170.1H1043V170.9H1045V169.7H1046V169.9H1048V175.6H1050V175.7H1051V174.7H1053V174.4H1055V175.4H1056V173.8H1058V174.7H1060V169.5H1061V168.9H1063V167.6H1064V167.5H1066V147.4H1068V158.3H1069V157.2H1071V156.4H1073V157.2H1074V159.1H1076V160.6H1078V156.3H1079V151.3H1081V153.8H1082V154.8H1084V157.1H1086V149.9H1087V146.3H1089V145.4H1091V153.0H1092V153.7H1094V151.4H1096V154.1H1097V155.5H1099V147.5H1100V140.5H1102V136.0H1104V135.8H1105V137.4H1107V135.7H1109V137.5H1110V134.3H1112V885.8Z" fill="#86f5e2"/>
<path d="M112,885.8V883.8H115V883.7H123V883.6H131V883.5H138V883.4H146V883.3H151V883.2H154V883.1H158V883.0H159V882.9H163V882.8H166V882.7H169V882.6H172V882.5H174V882.4H177V882.3H179V881.3H180V881.2H182V881.1H184V881.0H187V880.9H189V880.8H190V880.7H192V880.6H195V880.5H197V880.4H198V880.3H200V880.2H202V880.1H203V880.0H205V879.9H207V879.8H208V879.7H210V879.6H212V879.4H213V879.3H215V879.2H216V879.1H218V879.0H220V878.9H221V878.8H223V878.7H225V878.6H226V878.4H228V878.3H229V878.2H231V878.1H233V878.0H234V877.9H236V877.8H238V869.4H239V868.7H241V867.9H243V867.2H244V866.4H246V865.7H247V865.0H249V864.5H251V864.0H252V863.5H254V863.0H256V862.6H257V862.1H259V861.6H261V861.1H262V860.6H264V860.1H265V859.7H267V859.2H269V858.7H270V858.0H272V857.3H274V856.6H275V855.9H277V855.2H279V854.5H280V853.7H282V853.0H283V852.3H285V851.5H287V848.4H288V845.3H290V842.3H292V839.2H293V836.1H295V832.4H296V828.7H298V825.0H300V821.4H301V817.7H303V813.9H305V810.1H306V806.3H308V802.6H310V797.3H311V781.8H313V783.5H314V780.6H316V777.7H318V773.1H319V766.2H321V759.4H323V752.5H324V745.7H326V741.5H328V737.5H329V733.6H331V731.4H332V729.4H334V727.5H336V725.5H337V723.6H339V721.7H341V718.8H342V715.6H344V712.3H346V709.0H347V705.8H349V702.5H350V698.4H352V693.5H354V689.3H355V687.0H357V684.6H359V682.2H360V679.9H362V677.6H363V675.6H365V673.5H367V671.4H368V669.4H370V667.5H372V665.9H373V664.3H375V662.7H377V661.1H378V639.9H380V615.9H381V608.0H383V605.1H385V602.3H386V599.4H388V596.5H390V593.3H391V588.4H393V583.5H395V578.6H396V573.7H398V567.2H399V556.5H401V545.8H403V537.3H404V529.1H406V520.9H408V512.7H409V504.5H411V496.3H413V482.7H414V466.9H416V454.6H417V446.4H419V438.3H421V430.1H422V420.6H424V410.8H426V401.0H427V391.6H429V386.1H430V380.6H432V375.2H434V370.1H435V365.7H437V361.6H439V357.4H440V352.2H442V349.3H444V344.9H445V340.8H447V337.4H448V334.3H450V329.7H452V328.5H453V324.9H455V324.8H457V323.3H458V320.5H460V317.7H462V318.3H463V317.6H465V316.5H466V315.0H468V313.6H470V307.2H471V309.5H473V310.7H476V309.4H478V308.7H480V306.0H481V302.7H483V283.6H484V283.0H486V282.4H488V282.2H489V282.1H491V281.1H493V281.3H494V280.3H496V277.4H497V271.0H499V270.9H501V266.9H502V260.0H504V251.4H506V248.1H507V244.2H509V243.0H511V242.0H512V241.1H514V232.7H515V225.5H517V221.3H519V216.6H520V214.5H522V213.2H524V212.0H525V210.5H527V209.3H529V207.9H530V208.7H532V207.2H533V206.6H535V204.3H537V203.9H538V199.8H540V194.6H542V190.8H543V192.4H545V198.6H546V202.7H548V206.4H550V210.5H551V215.3H553V221.0H555V223.7H556V231.5H558V244.4H560V250.8H561V256.6H563V262.9H564V266.9H566V271.4H568V272.8H569V275.0H571V277.2H573V278.5H574V279.8H576V282.6H578V286.9H579V289.5H581V295.8H582V298.5H584V298.8H586V299.9H587V300.2H589V266.3H591V264.7H592V264.2H594V259.3H596V253.9H597V255.6H599V255.0H600V256.9H602V257.1H604V259.1H605V258.4H607V257.9H609V259.1H610V260.4H612V259.9H613V259.3H615V263.1H617V271.1H618V274.8H620V276.1H622V274.2H623V274.8H625V273.8H627V270.1H628V269.5H630V275.6H631V277.1H633V274.0H635V278.0H636V277.8H638V280.0H640V279.4H641V278.5H643V277.8H645V278.1H646V275.9H648V275.1H649V273.2H651V270.1H653V269.4H654V272.9H656V275.4H658V274.2H659V279.7H661V277.2H663V275.9H664V272.4H666V272.5H667V271.9H669V273.4H671V271.4H672V274.4H677V275.9H679V275.0H680V275.3H682V277.1H684V273.2H685V277.2H687V278.3H689V280.4H690V279.4H692V278.7H694V280.2H695V278.7H697V279.1H700V279.0H702V280.8H703V284.1H705V285.7H707V283.3H708V283.4H710V281.8H712V281.9H713V284.0H715V285.6H716V285.0H718V287.0H720V287.8H721V287.5H723V289.3H725V287.2H726V289.3H728V288.0H731V287.6H733V285.3H734V287.4H736V286.7H738V285.4H739V284.5H741V280.2H743V275.5H744V273.3H746V272.1H747V272.2H749V271.4H751V268.9H752V266.9H754V264.1H756V265.1H757V265.7H759V265.9H761V261.1H762V258.5H764V259.3H765V259.6H767V259.3H769V249.2H770V244.5H772V244.9H774V245.8H775V243.3H777V245.6H779V241.8H780V238.9H782V243.6H783V244.6H785V247.2H787V250.2H788V249.8H790V246.1H792V243.0H793V239.2H795V236.8H796V235.6H798V233.7H800V228.1H801V215.1H803V210.6H805V205.7H806V202.2H808V198.0H810V197.1H811V195.8H813V198.1H814V201.1H816V203.1H818V207.0H819V209.8H821V212.6H823V205.1H824V198.4H826V198.1H828V197.1H829V197.2H831V196.1H832V196.7H834V198.9H836V202.0H837V199.9H839V196.3H841V192.9H842V189.9H844V189.8H846V192.9H847V194.5H849V195.1H850V194.9H852V193.8H854V198.8H855V234.2H857V236.4H859V237.6H860V236.4H862V236.5H863V235.2H865V235.9H867V235.6H868V236.2H870V235.1H872V234.4H873V234.7H875V234.2H877V239.4H878V237.9H880V234.8H881V230.7H883V226.2H885V221.3H886V220.9H888V218.8H890V222.7H891V226.0H895V227.6H896V225.2H898V229.1H899V231.7H901V236.4H903V235.4H904V227.9H906V219.9H908V220.1H909V220.8H911V222.4H913V223.7H914V222.4H916V227.9H917V231.2H919V233.0H921V232.0H922V231.6H926V224.0H927V218.0H929V221.8H930V220.7H932V222.6H934V223.1H935V224.1H937V223.7H939V224.6H940V220.4H942V211.9H944V212.8H945V214.7H947V215.3H948V216.8H950V220.1H952V222.0H953V224.4H955V225.2H957V225.5H958V226.2H960V225.7H962V226.8H963V224.3H965V225.6H966V218.1H968V217.4H970V219.7H971V221.8H973V222.1H975V226.0H976V226.5H978V221.0H980V214.3H981V216.9H983V217.5H984V217.6H986V217.4H988V216.0H989V206.8H991V197.9H993V191.7H994V186.2H996V184.5H997V180.9H999V180.3H1001V178.8H1002V175.9H1004V176.9H1006V174.5H1007V178.7H1009V180.1H1011V181.7H1012V182.9H1014V183.3H1015V185.7H1017V186.0H1019V187.0H1020V188.2H1022V191.0H1024V192.8H1027V191.9H1029V188.4H1030V188.0H1032V192.0H1033V188.3H1035V188.5H1037V187.5H1038V186.9H1040V183.5H1042V182.3H1043V183.4H1045V183.0H1046V185.9H1048V186.9H1050V187.5H1051V186.8H1053V187.0H1055V187.5H1056V186.4H1058V187.3H1060V181.2H1061V180.7H1063V180.0H1064V180.2H1066V175.4H1068V172.9H1069V172.3H1071V172.0H1073V172.3H1074V173.9H1076V175.9H1078V170.3H1079V165.4H1081V167.5H1082V169.4H1084V169.8H1086V164.4H1087V161.5H1089V163.9H1091V167.1H1092V167.5H1094V165.5H1096V168.1H1097V168.5H1099V160.4H1100V152.9H1102V149.3H1104V149.1H1105V149.8H1107V148.8H1109V150.1H1112V885.8Z" fill="#a3bdf8"/>
<path d="M112,885.8V883.8H115V883.7H123V883.6H131V883.5H138V883.4H146V883.3H151V883.2H154V883.1H158V883.0H159V882.9H163V882.8H166V882.7H169V882.6H172V882.5H174V882.4H177V882.3H179V881.3H180V881.2H182V881.1H184V881.0H187V880.9H189V880.8H190V880.7H192V880.6H195V880.5H197V880.4H198V880.3H200V880.2H202V880.1H203V880.0H205V879.9H207V879.8H208V879.7H210V879.6H212V879.4H213V879.3H215V879.2H216V879.1H218V879.0H220V878.9H221V878.8H223V878.7H225V878.6H226V878.4H228V878.3H229V878.2H231V878.1H233V878.0H234V877.9H236V877.8H238V869.4H239V868.7H241V867.9H243V867.2H244V866.4H246V865.7H247V865.0H249V864.5H251V864.0H252V863.5H254V863.0H256V862.6H257V862.1H259V861.6H261V861.1H262V860.6H264V860.1H265V859.7H267V859.2H269V858.7H270V858.0H272V857.3H274V856.6H275V855.9H277V855.2H279V854.5H280V853.7H282V853.0H283V852.3H285V851.5H287V848.4H288V845.3H290V842.3H292V839.2H293V836.1H295V832.4H296V828.7H298V825.0H300V821.4H301V817.7H303V813.9H305V810.1H306V806.3H308V802.6H310V797.3H311V781.8H313V789.1H314V785.7H316V782.3H318V777.6H319V771.1H321V764.6H323V758.1H324V751.5H326V748.0H328V744.7H329V741.4H331V739.2H332V737.3H334V735.3H336V733.3H337V731.3H339V729.3H341V726.7H342V723.7H344V720.8H346V717.8H347V714.8H349V711.8H350V707.9H352V703.2H354V698.9H355V695.5H357V693.0H359V690.7H360V688.4H362V686.1H363V684.0H365V681.8H367V680.1H368V678.4H370V676.8H372V675.4H373V673.9H375V672.5H377V671.0H378V649.4H380V624.3H381V617.0H383V613.5H385V610.3H386V607.4H388V604.5H390V601.2H391V596.1H393V591.1H395V586.0H396V580.9H398V574.7H399V565.4H401V554.1H403V544.3H404V535.4H406V526.9H408V518.4H409V510.0H411V501.7H413V489.4H414V475.4H416V464.4H417V456.9H419V447.4H421V437.8H422V427.3H424V417.0H426V407.1H427V397.7H429V392.0H430V386.2H432V380.5H434V375.2H435V370.6H437V366.2H439V361.8H440V356.6H442V354.0H444V349.7H445V345.9H447V342.6H448V339.7H450V335.3H452V334.2H453V330.7H457V329.2H458V326.5H460V323.7H462V324.5H463V323.8H465V322.7H466V321.3H468V320.0H470V314.6H471V316.6H473V317.6H475V317.7H476V316.7H478V316.3H480V311.4H481V307.9H483V291.5H484V290.7H486V290.0H488V289.7H489V289.6H491V288.5H493V288.7H494V287.7H496V285.1H497V278.4H499V278.2H501V274.0H502V267.6H504V259.5H506V256.2H507V252.1H509V250.8H511V249.7H512V248.7H514V240.3H515V233.1H517V228.9H519V224.1H520V222.0H522V220.6H524V219.3H525V217.8H527V216.5H529V215.2H530V215.9H532V214.5H533V213.9H535V211.6H537V211.1H538V207.2H540V202.3H542V198.3H543V200.2H545V206.0H546V209.9H548V213.7H550V217.8H551V222.6H553V228.5H555V231.2H556V238.6H558V251.1H560V257.3H561V263.4H563V269.9H564V274.3H566V279.1H568V281.0H569V283.6H571V286.4H573V288.2H574V289.8H576V292.8H578V297.2H579V299.9H581V306.1H582V308.9H584V309.4H586V310.2H587V310.1H589V308.8H591V310.7H592V309.4H594V307.3H596V302.3H597V304.5H599V304.2H600V305.9H604V307.9H605V307.7H607V307.0H609V307.9H610V308.8H612V308.1H613V307.2H615V310.6H617V318.0H618V321.5H620V322.8H622V320.9H623V321.5H625V322.8H627V319.6H628V318.2H630V323.6H631V324.9H633V322.0H635V326.2H638V328.5H640V327.2H641V326.3H643V325.6H645V325.9H646V323.7H648V322.9H649V321.0H651V317.8H653V317.1H654V320.6H656V323.2H658V322.0H659V327.5H661V324.6H663V323.1H664V319.2H666V319.4H667V319.3H669V321.3H671V319.8H672V323.3H674V323.7H677V324.0H679V321.9H680V320.7H682V322.5H684V319.4H685V324.2H687V326.1H689V329.0H690V328.0H692V327.1H694V328.3H695V326.6H697V326.7H698V327.7H700V327.5H702V328.4H703V330.8H705V331.5H707V329.5H708V329.8H710V328.5H712V328.7H713V330.8H715V332.4H716V331.8H718V333.8H720V334.6H721V334.3H723V336.1H725V334.0H726V336.1H728V334.8H731V334.4H733V332.1H734V334.2H736V332.8H738V330.4H739V328.5H741V324.6H743V322.1H744V319.7H746V317.6H747V317.1H749V315.9H751V314.4H752V313.4H754V311.6H756V310.9H757V310.2H759V309.0H761V308.1H762V306.4H764V306.8H765V306.7H767V306.0H769V295.6H770V290.6H772V290.7H774V291.4H775V288.7H777V290.7H779V287.6H780V285.1H782V290.0H783V291.2H785V294.0H787V297.1H788V297.0H790V294.0H792V291.5H793V288.2H795V285.0H796V282.9H798V280.3H800V274.2H801V261.2H803V256.7H805V251.8H806V248.5H808V244.6H810V244.0H811V242.9H813V244.9H814V247.5H816V249.2H818V253.1H819V255.9H821V258.7H823V251.2H824V244.4H826V243.9H828V242.7H829V242.6H831V241.2H832V242.1H834V244.6H836V248.0H837V245.8H839V242.0H841V238.3H842V235.1H844V235.5H846V239.6H847V241.6H849V242.2H850V242.0H852V241.5H854V247.7H855V247.2H857V249.7H859V251.2H860V250.3H862V250.5H863V249.2H865V249.9H867V249.6H868V250.2H870V249.1H872V248.4H873V248.7H875V248.2H877V254.2H878V252.1H880V247.7H881V242.8H883V238.7H885V234.2H886V233.9H888V231.8H890V235.7H891V239.0H895V240.9H896V238.8H898V242.9H899V245.7H901V250.4H903V249.3H904V241.3H906V232.9H908V233.2H909V234.1H911V235.9H913V237.4H914V236.6H916V242.8H917V246.8H919V248.4H921V246.9H922V245.9H924V245.4H926V237.8H927V231.8H929V235.6H930V234.5H932V236.4H934V237.0H935V238.2H937V238.0H939V239.1H940V235.1H942V226.3H944V227.1H945V229.0H947V229.6H948V231.1H950V234.4H952V236.3H953V238.7H955V239.5H957V239.8H958V240.5H960V239.9H962V240.7H963V237.9H965V238.9H966V231.4H968V230.7H970V233.0H971V235.1H973V235.4H975V239.3H976V239.8H978V234.3H980V227.5H981V229.7H983V229.9H986V229.7H988V228.3H989V220.4H991V211.9H993V205.3H994V199.8H996V198.6H997V195.2H999V194.1H1001V192.3H1002V188.7H1004V189.1H1006V186.1H1007V191.4H1009V193.4H1011V194.7H1012V195.7H1014V195.8H1015V198.1H1017V198.4H1019V199.4H1020V200.6H1022V203.7H1024V205.8H1025V206.2H1027V205.3H1029V201.8H1030V201.4H1032V205.4H1033V201.7H1035V201.9H1037V200.9H1038V200.3H1040V196.9H1042V195.7H1043V196.8H1045V196.4H1046V199.3H1048V200.3H1050V200.9H1051V200.2H1053V200.4H1055V200.9H1056V199.8H1058V200.7H1060V194.6H1061V193.7H1063V192.7H1066V187.8H1068V185.3H1069V184.7H1071V184.4H1073V184.7H1074V186.3H1076V188.3H1078V183.2H1079V178.8H1081V180.5H1082V182.1H1084V182.2H1086V176.8H1087V174.0H1089V177.0H1091V180.4H1092V180.6H1094V178.4H1096V180.7H1097V180.9H1099V173.7H1100V165.6H1102V161.7H1104V161.6H1105V162.3H1107V161.4H1109V162.7H1110V160.2H1112V885.8Z" fill="#5ba9f8"/>
<path d="M112,885.8V885.5H115V885.4H123V885.3H131V885.2H138V885.1H146V885.0H151V884.9H154V884.8H158V884.7H159V884.6H163V884.5H166V884.4H169V884.3H172V884.2H174V884.1H177V884.0H179V883.0H180V882.9H182V882.8H184V882.7H187V882.6H189V882.5H190V882.4H192V882.3H195V882.2H197V882.1H198V882.0H200V881.9H202V881.8H203V881.7H205V881.6H207V881.5H208V881.4H210V881.3H212V881.1H213V881.0H215V880.9H216V880.8H218V880.7H220V880.6H221V880.5H223V880.4H225V880.3H226V880.1H228V880.0H229V879.9H231V879.8H233V879.7H234V879.6H236V879.5H238V871.1H239V870.4H241V869.6H243V868.9H244V868.1H246V867.4H247V866.7H249V866.2H251V865.7H252V865.2H254V864.7H256V864.3H257V863.8H259V863.3H261V862.8H262V862.3H264V861.8H265V861.4H267V860.9H269V860.4H270V859.7H272V859.0H274V858.3H275V857.6H277V856.9H279V856.2H280V855.4H282V854.7H283V854.0H285V853.3H287V850.2H288V847.1H290V844.1H292V841.0H293V837.9H295V834.2H296V830.5H298V826.8H300V823.2H301V819.5H303V815.8H305V812.1H306V808.4H308V804.7H310V801.0H311V797.3H313V791.6H314V788.0H316V784.5H318V779.8H319V773.4H321V767.0H323V760.7H324V754.3H326V751.0H328V748.1H329V745.1H331V743.0H332V741.0H334V739.1H336V737.1H337V735.1H339V733.1H341V730.6H342V727.8H344V725.0H346V722.1H347V719.3H349V716.5H350V712.7H352V708.2H354V703.8H355V699.9H357V697.4H359V695.1H360V692.9H362V690.6H363V688.4H365V686.2H367V684.7H368V683.2H370V681.8H372V680.5H373V679.2H375V677.8H377V676.5H378V654.7H380V629.3H381V623.0H383V619.8H385V616.8H386V613.9H388V611.0H390V607.7H391V602.6H393V597.5H395V592.4H396V587.3H398V581.4H399V573.4H401V561.6H403V550.8H404V541.3H406V532.5H408V523.8H409V515.4H411V507.0H413V496.2H414V484.2H416V474.7H417V468.0H419V457.4H421V446.5H422V434.9H424V424.3H426V414.6H427V405.2H429V399.3H430V393.3H432V387.4H434V382.0H435V377.3H437V372.8H439V368.3H440V363.2H442V360.7H444V356.6H445V352.8H447V349.6H448V346.8H450V342.4H452V341.3H453V337.7H457V336.1H458V333.3H460V330.6H462V331.5H463V330.9H465V330.0H466V328.7H468V327.6H470V323.3H471V325.0H473V325.8H475V326.3H476V325.6H478V325.5H480V318.0H481V314.4H483V301.0H484V299.9H486V299.1H488V298.7H489V298.4H491V297.3H493V297.4H494V296.4H496V294.1H497V287.1H499V286.7H501V282.3H502V276.3H504V269.0H506V265.5H507V261.2H509V259.8H511V258.4H512V257.3H514V248.8H515V241.6H517V237.3H519V232.6H520V230.4H522V228.8H524V227.5H525V225.8H527V224.4H529V223.0H530V223.7H532V222.2H533V221.6H535V219.3H537V218.7H538V215.1H540V210.4H542V206.2H543V208.2H545V213.6H546V217.4H548V221.1H550V225.2H551V230.1H553V236.1H555V238.8H556V245.7H558V257.7H560V263.8H561V269.8H563V276.4H564V281.0H566V285.9H568V287.9H569V290.8H571V293.8H573V295.8H574V297.5H576V300.4H578V304.8H579V307.4H581V313.3H582V316.4H584V317.3H586V318.0H587V317.9H589V315.8H591V318.0H592V317.2H594V315.1H596V309.3H597V311.5H599V311.2H600V312.9H604V314.9H605V314.7H607V314.1H609V315.2H610V316.4H612V315.8H613V315.1H615V318.6H617V326.0H618V329.5H620V330.6H622V328.6H623V329.0H625V330.2H627V326.9H628V325.4H630V330.6H631V331.9H633V329.0H635V333.3H636V333.2H638V335.6H640V335.2H641V334.3H643V333.6H645V333.9H646V331.7H648V330.9H649V329.0H651V325.9H653V325.1H654V328.3H656V330.6H658V329.2H659V334.5H661V332.0H663V330.7H664V327.2H666V327.4H667V327.1H669V329.0H671V327.2H672V330.6H674V330.8H677V331.4H679V329.6H680V328.7H682V330.5H684V327.1H685V331.7H687V333.4H689V336.1H690V334.9H692V333.7H694V334.8H695V332.9H697V332.7H698V333.7H700V333.5H702V334.4H703V336.8H705V337.5H707V335.5H708V335.8H710V334.5H712V334.7H713V336.8H715V338.4H716V337.8H718V339.8H720V340.6H721V340.3H723V342.1H725V340.0H726V342.1H728V340.8H731V340.4H733V338.1H734V340.2H736V338.8H738V336.4H739V334.5H741V330.6H743V328.1H744V325.7H746V323.7H747V323.2H749V322.0H751V320.5H752V319.5H754V317.6H756V316.9H757V316.2H759V315.0H761V314.1H762V312.4H764V312.8H765V312.7H767V312.0H769V301.0H770V295.6H772V295.7H774V296.4H775V293.7H777V295.7H779V292.6H780V290.1H782V295.0H783V296.2H785V299.0H787V302.1H788V302.0H790V299.0H792V296.5H793V293.2H795V290.0H796V287.9H798V285.3H800V279.2H801V266.2H803V261.7H805V256.8H806V253.5H808V249.6H810V249.0H811V247.9H813V249.9H814V252.5H816V254.2H818V258.1H819V260.9H821V263.7H823V256.2H824V249.4H826V248.9H828V247.7H829V247.6H831V246.2H832V247.1H834V249.6H836V253.0H837V250.8H839V247.0H841V243.3H842V240.1H844V240.5H846V244.6H847V246.6H849V247.2H850V247.0H852V246.5H854V252.7H855V252.3H857V255.1H859V256.8H860V256.2H862V256.6H863V255.1H865V255.7H867V255.3H868V255.7H870V254.5H872V253.7H873V253.8H875V253.2H877V259.2H878V257.1H880V252.7H881V247.8H883V243.7H885V239.2H886V238.9H888V236.8H890V240.7H891V244.0H895V245.7H896V243.4H898V247.4H899V250.0H901V254.1H903V253.0H904V246.0H906V238.4H908V238.5H909V239.1H911V240.6H913V241.8H914V240.8H916V247.0H917V251.0H919V252.7H921V251.2H922V250.2H924V249.7H926V241.2H927V235.0H929V238.8H930V237.7H932V239.6H934V240.2H935V241.4H937V241.2H939V242.3H940V238.3H942V229.0H944V229.8H945V231.7H947V232.3H948V233.8H950V237.1H952V239.0H953V241.4H955V242.2H957V242.5H958V243.2H960V242.6H962V243.4H963V240.6H965V241.6H966V234.1H968V233.4H970V235.7H971V237.8H973V238.1H975V242.0H976V242.5H978V237.0H980V230.2H981V232.4H983V232.6H986V232.4H988V231.0H989V223.1H991V214.6H993V208.0H994V202.5H996V201.3H997V197.9H999V196.8H1001V194.9H1002V191.3H1004V191.7H1006V188.7H1007V194.0H1009V196.1H1011V197.4H1012V198.4H1014V198.5H1015V200.8H1017V201.1H1019V202.1H1020V203.3H1022V206.4H1024V208.5H1025V208.9H1027V208.0H1029V204.5H1030V204.1H1032V208.1H1033V204.4H1035V204.6H1037V203.6H1038V203.0H1040V199.6H1042V198.4H1043V199.5H1045V199.1H1046V202.0H1048V203.0H1050V203.6H1051V202.9H1053V203.1H1055V203.6H1056V202.5H1058V203.4H1060V197.3H1061V196.4H1063V195.4H1066V190.4H1068V187.9H1069V187.3H1071V187.0H1073V187.3H1074V188.9H1076V190.9H1078V185.8H1079V181.4H1081V183.1H1082V184.7H1084V184.8H1086V179.4H1087V176.6H1089V179.6H1091V183.0H1092V183.2H1094V181.0H1096V183.3H1097V183.5H1099V176.3H1100V168.2H1102V164.3H1104V164.2H1105V164.9H1107V164.0H1109V165.3H1110V162.8H1112V885.8Z" fill="#241a70"/>
<path d="M112,885.8V885.5H115V885.4H123V885.3H131V885.2H138V885.1H146V885.0H151V884.9H154V884.8H158V884.7H159V884.6H163V884.5H166V884.4H169V884.3H172V884.2H174V884.1H177V884.0H179V883.0H180V882.9H182V882.8H184V882.7H187V882.6H189V882.5H190V882.4H192V882.3H195V882.2H197V882.1H198V882.0H200V881.9H202V881.8H203V881.7H205V881.6H207V881.5H208V881.4H210V881.3H212V881.1H213V881.0H215V880.9H216V880.8H218V880.7H220V880.6H221V880.5H223V880.4H225V880.3H226V880.1H228V880.0H229V879.9H231V879.8H233V879.7H234V879.6H236V879.5H238V871.1H239V870.4H241V869.6H243V868.9H244V868.1H246V867.4H247V866.7H249V866.2H251V865.7H252V865.2H254V864.7H256V864.3H257V863.8H259V863.3H261V862.8H262V862.3H264V861.8H265V861.4H267V860.9H269V860.4H270V859.7H272V859.0H274V858.3H275V857.6H277V856.9H279V856.2H280V855.4H282V854.7H283V854.0H285V853.3H287V850.2H288V847.1H290V844.1H292V841.0H293V837.9H295V834.2H296V830.5H298V826.8H300V823.2H301V819.5H303V815.8H305V812.1H306V808.4H308V804.7H310V801.0H311V797.3H313V793.7H314V790.0H316V786.3H318V781.5H319V775.3H321V769.1H323V762.9H324V756.7H326V753.7H328V751.1H329V748.5H331V746.5H332V744.5H334V742.6H336V740.6H337V738.7H339V736.8H341V734.4H342V731.8H344V729.1H346V726.5H347V723.9H349V721.3H350V717.7H352V713.4H354V709.0H355V704.6H357V702.1H359V699.9H360V697.7H362V695.5H363V693.3H365V691.2H367V689.9H368V688.8H370V687.6H372V686.4H373V685.3H375V684.1H377V683.0H378V661.0H380V635.3H381V630.5H383V628.0H385V625.4H386V622.9H388V620.3H390V617.3H391V612.4H393V607.5H395V602.6H396V597.7H398V592.8H399V587.4H401V575.1H403V562.8H404V552.6H406V543.6H408V534.7H409V526.5H411V518.3H413V510.9H414V503.9H416V498.2H417V494.3H419V481.5H421V467.9H422V454.3H424V443.3H426V434.3H427V425.7H429V420.2H430V414.7H432V409.3H434V404.5H435V400.6H437V397.0H439V393.4H440V388.9H442V386.9H444V383.2H445V380.0H447V377.0H448V374.5H450V370.4H452V369.4H453V365.7H455V365.4H457V363.6H458V360.7H460V357.7H462V358.2H463V357.2H465V355.9H466V354.3H468V352.9H470V351.6H471V351.3H473V350.9H475V351.5H476V351.1H478V351.2H480V336.0H481V332.1H483V327.2H484V325.6H486V324.5H488V323.8H489V323.4H491V322.2H493V322.3H494V321.2H496V320.1H497V312.2H499V311.3H501V306.4H502V302.2H504V296.8H506V292.9H507V288.3H509V286.5H511V284.8H512V283.3H514V274.8H515V267.6H517V263.4H519V258.7H520V256.3H522V254.6H524V253.0H525V251.1H527V249.5H529V248.0H530V248.8H532V247.3H533V246.7H535V244.4H537V244.0H538V240.9H540V237.3H542V232.7H543V235.4H545V239.5H546V242.8H548V246.5H550V250.6H551V255.9H553V262.4H555V265.4H556V270.8H558V281.3H560V286.8H561V292.4H563V298.8H564V303.4H566V308.5H568V310.7H569V313.9H571V317.2H573V319.6H574V321.1H576V323.4H578V327.2H579V329.2H581V334.0H582V338.3H584V341.1H586V342.5H587V343.1H589V343.2H591V346.0H592V345.8H594V341.5H596V336.8H597V338.8H599V338.4H600V340.1H602V340.0H604V341.8H605V340.6H607V339.7H609V340.4H610V341.2H612V340.4H613V339.3H615V342.4H617V349.4H618V352.6H620V353.8H622V351.8H623V352.4H625V353.6H627V350.6H628V349.4H630V354.8H631V355.8H633V352.4H635V356.2H636V355.8H638V357.7H640V357.2H641V356.0H643V355.1H645V355.2H646V352.8H648V351.9H649V350.0H651V346.9H653V346.1H654V349.3H656V351.6H658V350.2H659V355.5H661V353.0H663V351.7H664V348.2H666V348.4H667V348.1H669V350.0H671V348.2H672V351.6H674V351.8H676V351.7H677V352.0H679V349.9H680V348.8H682V350.6H684V347.5H685V352.3H687V354.1H689V357.0H690V355.9H692V354.7H694V355.8H695V353.9H697V353.7H698V354.7H700V354.5H702V355.4H703V357.8H705V358.5H707V355.8H708V355.5H710V353.6H712V353.7H713V355.8H715V357.4H716V356.8H718V358.8H720V359.6H721V359.3H723V361.0H725V358.8H726V360.8H728V359.4H730V359.2H731V358.7H733V356.3H734V358.2H736V356.6H738V354.0H739V351.7H741V347.6H743V345.1H744V342.7H746V340.8H747V340.5H749V339.4H751V338.1H752V337.3H754V335.6H756V334.9H757V334.1H759V332.8H761V331.7H762V329.9H764V330.2H765V330.0H767V329.1H769V318.2H770V312.6H772V311.7H774V311.5H775V307.8H777V308.9H779V306.5H780V304.4H782V309.5H783V310.9H785V313.9H787V317.3H788V317.0H790V312.7H792V308.9H793V304.7H795V303.7H796V303.8H798V301.9H800V295.3H801V281.2H803V276.7H805V271.9H806V268.6H808V264.7H810V264.1H811V263.0H813V265.0H814V267.6H816V269.3H818V272.5H819V274.6H821V276.7H823V269.3H824V262.6H826V262.3H828V261.3H829V261.4H831V260.3H832V261.2H834V263.7H836V267.1H837V264.5H839V260.2H841V256.1H842V252.4H844V252.5H846V256.7H847V258.7H849V259.3H850V259.1H852V258.9H854V265.5H855V265.3H857V267.5H859V268.7H860V267.5H862V267.6H863V266.3H865V267.0H867V266.7H868V267.3H870V266.2H872V265.5H873V265.8H875V265.3H877V270.5H878V268.2H880V263.8H881V258.9H883V254.8H885V250.2H886V249.7H888V247.5H890V251.1H891V254.2H893V254.0H895V255.7H896V253.3H898V257.2H899V259.8H901V264.2H903V263.3H904V256.4H906V248.9H908V248.5H911V249.4H913V250.0H914V249.4H916V256.1H917V260.8H919V262.6H921V260.8H922V259.5H924V258.7H926V249.5H927V243.1H929V246.9H930V245.8H932V247.7H934V248.4H935V249.8H939V251.1H940V247.3H942V238.0H944V238.8H945V240.7H947V241.3H948V242.7H950V245.6H952V247.2H953V249.7H955V250.7H957V251.2H958V252.2H960V251.7H962V252.5H963V249.7H965V250.7H966V242.3H968V241.4H970V243.7H971V245.9H973V246.2H975V250.1H976V250.6H978V245.1H980V238.2H981V240.4H983V240.6H986V240.4H988V239.0H989V231.1H991V222.6H993V216.0H994V210.5H996V209.3H997V205.9H999V204.8H1001V203.0H1002V199.2H1004V199.3H1006V195.9H1007V201.1H1009V203.2H1011V204.8H1012V206.0H1014V206.4H1015V208.8H1017V209.1H1019V210.1H1020V211.3H1022V214.4H1024V216.5H1025V216.9H1027V215.7H1029V211.9H1030V211.3H1032V215.1H1033V211.4H1035V211.6H1037V210.6H1038V210.0H1040V206.6H1042V205.4H1043V206.5H1045V206.1H1046V209.0H1048V210.0H1050V210.6H1051V209.9H1053V210.1H1055V210.6H1056V209.5H1058V210.4H1060V204.3H1061V203.4H1063V202.4H1066V198.0H1068V195.8H1069V194.6H1071V194.2H1073V194.8H1074V196.7H1076V198.9H1078V193.3H1079V188.4H1081V190.1H1082V191.7H1084V191.8H1086V186.4H1087V183.6H1089V186.6H1091V190.0H1092V190.2H1094V188.0H1096V190.3H1097V190.5H1099V183.3H1100V175.2H1102V171.3H1104V171.2H1105V171.9H1107V171.0H1109V172.3H1110V169.8H1112V885.8Z" fill="#b8e653"/>
<path d="M112,885.8V885.5H115V885.4H123V885.3H131V885.2H138V885.1H146V885.0H151V884.9H154V884.8H158V884.7H159V884.6H163V884.5H166V884.4H169V884.3H172V884.2H174V884.1H177V884.0H179V883.0H180V882.9H182V882.8H184V882.7H187V882.6H189V882.5H190V882.4H192V882.3H195V882.2H197V882.1H198V882.0H200V881.9H202V881.8H203V881.7H205V881.6H207V881.5H208V881.4H210V881.3H212V881.1H213V881.0H215V880.9H216V880.8H218V880.7H220V880.6H221V880.5H223V880.4H225V880.3H226V880.1H228V880.0H229V879.9H231V879.8H233V879.7H234V879.6H236V879.5H238V871.2H239V870.5H241V869.8H243V869.1H244V868.4H246V867.7H247V867.1H249V866.4H251V866.1H252V865.7H254V865.4H256V865.0H257V864.7H259V864.4H261V864.0H262V863.7H264V863.4H265V863.0H267V862.7H269V862.4H270V861.8H272V861.2H274V860.6H275V860.0H277V859.4H279V858.7H280V858.1H282V857.5H283V856.9H285V856.3H287V853.7H288V851.1H290V848.6H292V846.0H293V843.4H295V840.9H296V838.3H298V835.7H300V832.5H301V828.6H303V824.7H305V820.7H306V816.8H308V812.9H310V808.8H311V804.6H313V800.3H314V796.1H316V791.8H318V787.6H319V783.6H321V780.6H323V777.5H324V774.5H326V772.9H328V771.4H329V769.9H331V768.4H332V766.9H334V765.4H336V763.9H337V762.4H339V760.9H341V759.4H342V757.9H344V756.4H346V754.8H347V753.3H349V751.8H350V750.4H352V749.1H354V747.8H355V746.5H357V745.2H359V743.9H360V742.7H362V741.7H363V740.7H365V739.7H367V738.8H368V737.8H370V736.9H372V736.3H373V735.7H375V735.1H377V734.5H378V711.6H380V687.4H381V682.4H398V680.8H399V675.0H401V669.2H403V664.9H404V660.8H406V657.0H408V653.8H409V650.5H411V647.2H413V644.0H414V641.0H416V638.4H417V635.8H419V633.2H421V630.6H422V627.9H424V624.8H426V620.8H427V616.7H429V614.9H430V613.3H432V611.8H434V610.1H435V608.5H437V607.1H439V605.8H440V603.1H442V602.2H444V599.7H445V597.6H447V595.3H448V593.4H450V589.9H452V589.3H453V585.7H455V585.8H457V584.4H458V581.8H460V578.7H462V578.8H463V577.4H465V575.5H466V573.0H468V570.8H470V568.7H471V569.2H473V568.5H475V568.9H476V568.3H478V565.9H480V553.6H481V549.2H483V543.9H484V541.0H486V540.3H488V540.1H489V540.0H491V538.9H493V539.1H494V538.1H496V536.2H497V530.9H499V527.2H501V519.6H502V516.3H504V511.9H506V507.5H507V502.8H509V501.6H511V500.5H512V499.6H514V493.4H515V485.0H517V479.4H519V474.6H520V473.0H522V471.5H524V470.1H525V468.5H527V467.0H529V465.8H530V466.6H532V465.2H533V464.7H535V462.5H537V462.1H538V460.6H540V452.0H542V450.0H543V449.5H545V450.4H546V450.1H548V449.9H550V448.8H551V445.3H553V446.0H555V446.6H556V450.1H558V455.7H560V455.9H561V456.2H563V457.7H564V460.9H566V465.0H568V466.4H569V467.1H571V466.8H573V465.5H574V463.4H576V462.2H578V462.9H579V461.8H581V462.0H582V461.6H584V460.8H586V460.9H587V460.1H589V458.9H591V460.3H592V458.8H594V453.1H596V446.4H597V447.8H599V446.6H600V447.5H602V446.8H604V447.6H605V445.7H607V444.0H612V443.2H613V444.2H615V446.9H617V451.1H618V455.1H620V457.4H622V452.7H623V450.4H625V448.9H627V443.2H628V441.1H630V445.7H631V445.8H633V441.5H635V444.5H636V443.2H638V444.2H640V443.2H641V441.5H643V439.9H645V439.5H646V436.5H648V433.1H649V429.4H651V426.5H653V426.6H654V427.8H656V428.6H658V426.4H659V431.5H661V429.4H663V428.1H664V424.6H666V424.0H667V423.1H669V424.3H671V421.9H672V424.6H674V424.2H676V423.9H677V425.0H679V423.7H680V423.8H682V425.6H684V421.7H685V425.7H687V426.7H689V428.2H690V426.9H692V426.1H694V427.4H695V425.9H697V426.1H698V426.0H700V422.9H702V419.8H703V423.6H705V425.7H707V424.0H708V423.1H710V420.7H712V419.8H713V421.8H715V423.5H716V422.8H718V424.9H720V425.5H721V423.8H723V424.8H725V422.7H726V424.7H728V423.3H730V423.1H731V422.6H733V420.3H734V422.2H736V421.9H738V420.6H739V419.7H741V413.4H743V407.3H744V403.5H746V403.0H747V403.7H749V403.6H751V403.2H752V404.0H754V404.1H756V405.1H757V405.7H759V405.8H761V405.2H762V403.8H764V404.5H765V404.7H767V404.4H769V400.1H770V399.5H772V398.9H774V400.3H775V398.2H777V400.8H779V400.6H780V398.8H782V403.3H783V404.1H785V406.5H787V409.3H788V408.7H790V404.8H792V401.1H793V395.8H795V390.6H796V390.2H798V388.2H800V382.1H801V368.8H803V363.5H805V357.9H806V353.7H808V349.1H810V347.6H811V345.8H813V347.6H814V350.1H816V351.3H818V354.4H819V356.5H821V358.5H823V351.1H824V344.1H826V342.4H828V339.9H829V338.8H831V339.1H832V338.9H834V340.1H836V342.2H837V339.3H839V335.1H841V330.9H842V327.3H844V327.1H846V330.7H847V332.9H849V334.2H850V334.6H852V333.1H854V337.2H855V335.0H857V336.3H859V336.7H860V334.7H862V334.2H863V332.4H865V332.7H867V331.9H868V332.0H870V330.4H872V329.3H873V329.1H875V328.1H877V332.5H878V330.1H880V325.9H881V321.2H883V316.3H885V310.3H886V309.0H888V306.3H890V309.4H891V311.9H893V311.1H895V312.1H896V309.1H898V312.4H899V314.7H901V319.9H903V319.4H904V312.1H906V304.3H908V304.0H909V304.2H911V305.3H913V306.1H914V304.3H916V309.5H917V312.5H919V313.7H921V311.9H922V310.6H924V309.8H926V311.3H927V308.1H929V312.2H930V310.8H932V312.3H934V312.7H935V313.9H937V313.6H939V314.6H940V310.5H942V301.2H944V302.0H945V303.9H947V304.5H948V305.7H950V308.3H952V309.4H953V311.2H955V311.5H957V311.4H958V311.7H960V311.4H962V313.2H963V311.6H965V313.6H966V306.3H968V305.4H970V307.5H971V309.4H973V309.5H975V313.0H978V307.2H980V300.4H981V302.6H983V302.8H984V302.5H986V302.0H988V300.3H989V292.3H991V284.0H993V277.9H994V272.4H996V270.7H997V267.0H999V265.9H1001V264.1H1002V260.5H1004V260.9H1006V257.9H1007V263.2H1009V265.2H1011V266.5H1012V267.5H1014V267.6H1015V269.9H1017V270.2H1019V271.2H1020V272.4H1022V275.2H1024V277.0H1027V276.1H1029V272.6H1030V272.2H1032V276.4H1033V273.1H1035V273.7H1037V273.2H1038V273.0H1040V270.0H1042V269.4H1043V270.4H1045V269.7H1046V272.3H1048V273.1H1050V273.7H1051V273.0H1053V273.2H1055V273.7H1056V272.6H1058V273.5H1060V268.3H1061V267.1H1063V265.9H1064V265.6H1066V247.2H1068V258.9H1069V257.8H1071V257.2H1073V257.5H1074V259.1H1076V261.1H1078V256.0H1079V251.5H1081V252.9H1082V254.2H1084V254.0H1086V250.2H1087V248.8H1089V251.8H1091V255.3H1092V255.7H1094V253.7H1096V256.3H1097V256.7H1099V248.6H1100V241.1H1102V237.4H1104V237.3H1105V238.0H1107V237.1H1109V238.4H1110V235.9H1112V885.8Z" fill="#2a5c5a"/>
<path d="M112,885.8V885.5H115V885.4H123V885.3H131V885.2H138V885.1H146V885.0H151V884.9H154V884.8H158V884.7H159V884.6H163V884.5H166V884.4H169V884.3H172V884.2H174V884.1H177V884.0H179V883.0H180V882.9H182V882.8H184V882.7H187V882.6H189V882.5H190V882.4H192V882.3H195V882.2H197V882.1H198V882.0H200V881.9H202V881.8H203V881.7H205V881.6H207V881.5H208V881.4H210V881.3H212V881.1H213V881.0H215V880.9H216V880.8H218V880.7H220V880.6H221V880.5H223V880.4H225V880.3H226V880.1H228V880.0H229V879.9H231V879.8H233V879.7H234V879.6H236V879.5H238V879.3H239V879.2H241V879.0H243V878.9H244V878.7H246V878.6H247V878.4H249V878.3H251V878.1H252V878.0H254V877.8H256V877.7H257V877.5H259V877.3H261V877.2H262V877.0H264V876.9H265V876.7H267V876.6H269V876.4H270V876.0H272V875.5H274V875.0H275V874.5H277V873.9H279V873.4H280V872.9H282V872.4H283V871.9H285V871.4H287V869.4H288V867.4H290V865.4H292V863.4H293V861.4H295V859.4H296V857.4H298V855.4H300V853.3H301V851.0H303V848.7H305V846.4H306V844.1H308V841.8H310V839.2H311V836.0H313V832.7H314V829.4H316V826.2H318V822.9H319V819.7H321V816.6H323V813.5H324V810.4H326V807.7H328V806.1H329V804.5H331V802.9H332V801.3H334V799.6H336V798.1H337V796.9H339V795.7H341V794.6H342V793.4H344V792.2H346V791.1H347V789.9H349V788.7H350V787.6H352V786.4H354V785.3H355V784.2H357V783.0H359V781.9H360V780.9H362V780.0H363V779.2H365V778.4H367V777.6H368V776.8H370V776.0H372V775.2H373V774.3H375V773.5H377V772.7H378V756.0H380V723.2H381V722.0H383V721.9H385V721.8H386V721.7H388V721.6H390V721.5H391V721.4H393V721.3H395V721.2H396V721.1H398V718.7H399V713.5H401V707.5H403V703.0H404V700.5H406V698.1H408V694.2H409V690.2H411V688.1H413V686.1H414V684.1H416V682.2H417V680.5H419V678.8H421V677.1H422V673.0H424V667.4H426V662.2H427V661.3H429V660.4H430V659.4H432V658.6H434V657.5H435V656.6H437V655.7H439V655.0H440V652.6H442V651.6H444V649.6H445V647.4H447V645.3H448V643.6H450V640.8H452V640.3H453V637.3H455V637.1H457V635.2H458V633.3H460V629.9H462V630.0H463V628.8H465V627.2H466V625.3H468V623.8H470V622.0H473V621.1H475V621.8H476V621.6H478V616.7H480V603.5H481V598.6H483V594.7H484V592.0H486V591.3H488V591.2H489V591.0H491V589.9H494V589.4H496V587.9H497V583.8H499V580.4H501V574.5H502V573.5H504V570.4H506V568.5H507V565.5H509V564.4H511V562.5H512V561.7H514V554.3H515V545.3H517V540.2H519V535.9H520V533.4H522V532.2H524V530.9H525V529.4H527V528.4H529V527.0H530V526.8H532V526.1H533V524.8H535V523.6H537V522.4H538V520.8H540V513.0H542V511.0H543V510.5H545V511.2H546V511.4H548V511.1H550V510.4H551V507.1H553V507.5H555V505.9H556V509.6H558V513.5H560V513.8H561V514.6H563V516.2H564V517.4H566V519.5H568V519.4H569V519.7H571V519.2H573V517.8H574V516.0H576V514.7H578V514.6H579V513.9H581V514.1H582V513.8H584V512.3H586V512.1H587V511.8H589V510.8H591V511.4H592V510.7H594V505.3H596V498.3H597V498.9H599V498.0H600V498.8H602V498.2H604V498.0H605V497.6H607V495.8H609V494.5H610V494.0H612V493.9H613V495.3H615V498.5H617V502.1H618V505.4H620V506.9H622V503.6H623V502.0H625V500.4H627V495.4H628V493.4H630V497.9H631V497.8H633V494.3H635V496.6H638V496.8H640V496.5H641V494.3H643V493.2H645V492.5H646V489.8H648V485.4H649V481.0H651V478.5H653V478.6H654V479.3H656V480.2H658V477.3H659V482.7H661V480.3H663V479.3H664V476.8H666V475.3H667V474.4H669V475.7H671V473.0H672V475.5H674V475.7H676V475.5H677V475.0H679V474.9H680V474.7H682V476.2H684V472.8H685V475.8H687V477.2H689V478.0H690V476.8H692V476.4H694V477.2H695V475.9H697V475.7H700V473.2H702V470.0H703V473.0H705V475.1H707V474.8H708V472.5H710V469.9H712V469.4H713V470.9H715V472.6H716V472.3H718V474.3H720V474.4H721V473.2H723V473.6H725V471.3H726V473.4H728V471.7H730V471.8H731V471.1H733V468.3H734V470.5H736V469.9H738V468.6H739V468.1H741V462.5H743V456.4H744V453.1H746V452.4H747V452.3H749V451.7H751V451.0H752V451.9H754V451.8H756V452.6H757V451.6H759V452.3H761V451.5H762V450.4H764V450.0H765V449.9H767V448.9H769V445.7H770V445.8H772V445.5H774V446.7H775V444.1H777V447.1H779V446.9H780V445.0H782V449.0H783V450.1H785V452.4H787V453.9H790V450.7H792V448.5H793V445.7H795V442.4H796V443.2H798V441.8H800V436.4H801V426.1H803V426.4H805V426.3H806V425.8H808V423.4H810V426.1H811V428.9H813V431.2H814V433.8H816V435.5H818V437.7H819V438.2H821V439.1H823V440.5H824V438.5H826V436.5H828V435.4H829V436.7H831V437.6H832V438.0H834V438.2H836V440.5H837V437.4H839V434.6H841V430.8H842V427.7H844V428.4H846V433.8H847V433.6H849V434.6H850V435.0H852V433.2H854V436.9H855V434.2H857V435.2H859V436.2H860V434.0H862V432.9H863V432.4H865V432.0H867V431.9H868V431.1H870V429.8H872V429.0H873V428.9H875V428.7H877V431.3H878V432.0H880V431.1H881V430.8H883V430.3H885V422.5H886V422.2H888V418.6H890V422.2H891V423.8H893V423.6H895V424.8H896V421.8H898V425.0H899V426.9H901V430.4H903V430.5H904V423.3H906V416.0H908V416.4H909V417.4H911V418.1H913V419.3H914V417.7H916V423.2H917V426.5H919V427.8H921V426.5H922V426.1H924V426.4H926V427.3H927V424.3H929V427.0H930V426.5H932V428.0H934V428.2H937V427.5H939V428.1H940V424.4H942V416.9H944V416.7H945V417.7H947V418.7H948V419.3H950V421.2H952V421.3H953V422.8H955V423.6H957V424.2H958V424.6H960V424.7H962V425.7H963V424.9H965V426.6H966V419.2H968V418.8H970V420.3H971V422.4H973V422.6H975V426.2H978V420.6H980V413.3H981V414.7H983V415.7H984V414.1H986V413.4H988V410.9H989V401.6H991V395.4H993V393.0H994V390.0H996V390.2H997V388.2H999V387.3H1001V385.4H1002V381.4H1004V381.9H1006V378.7H1007V380.4H1009V381.2H1011V381.3H1012V382.7H1014V382.8H1015V383.9H1017V385.4H1019V386.0H1020V387.4H1022V389.8H1024V390.6H1025V391.1H1027V391.9H1029V389.8H1030V389.1H1032V392.2H1033V389.7H1035V389.9H1037V388.9H1038V387.6H1040V383.9H1042V384.4H1043V383.8H1045V382.4H1046V383.3H1048V386.6H1050V387.4H1051V387.1H1053V386.4H1055V386.0H1056V386.3H1058V386.5H1060V381.0H1061V380.3H1063V378.4H1064V378.1H1066V358.4H1068V369.8H1069V369.7H1071V369.0H1073V369.3H1074V370.4H1076V371.2H1078V366.1H1079V360.1H1081V361.8H1082V362.4H1086V358.5H1087V355.9H1089V354.9H1091V355.5H1092V355.0H1094V352.4H1096V355.2H1097V354.5H1099V347.8H1100V334.5H1102V327.4H1104V327.1H1105V327.6H1107V326.5H1109V325.9H1110V322.2H1112V885.8Z" fill="#dcc8fa"/>
<rect x="1112" y="698" width="2" height="12" fill="#86f5e2" shape-rendering="auto"/>
<rect x="1112" y="710" width="2" height="16" fill="#a3bdf8" shape-rendering="auto"/>
<rect x="1112" y="726" width="2" height="7" fill="#241a70" shape-rendering="auto"/>
<rect x="1112" y="733" width="2" height="66" fill="#b8e653" shape-rendering="auto"/>
<rect x="1112" y="799" width="1.5" height="86.79999999999995" fill="#2a5c5a" shape-rendering="auto"/>
<path d="M114.5,80v806M116.5,80v806M119.5,80v806M121.5,80v806M124.5,80v806M126.5,80v806M129.5,80v806M132.5,80v806M134.5,80v806M137.5,80v806M139.5,80v806M142.5,80v806M144.5,80v806M147.5,80v806M150.5,80v806M152.5,80v806M155.5,80v806M157.5,80v806M160.5,80v806M162.5,80v806M165.5,80v806M168.5,80v806M170.5,80v806M173.5,80v806M175.5,80v806M178.5,80v806M181.5,80v806M183.5,80v806M186.5,80v806M188.5,80v806M191.5,80v806M193.5,80v806M196.5,80v806M199.5,80v806M201.5,80v806M204.5,80v806M206.5,80v806M209.5,80v806M211.5,80v806M214.5,80v806M217.5,80v806M219.5,80v806M222.5,80v806M224.5,80v806M227.5,80v806M230.5,80v806M232.5,80v806M235.5,80v806M237.5,80v806M240.5,80v806M242.5,80v806M245.5,80v806M248.5,80v806M250.5,80v806M253.5,80v806M255.5,80v806M258.5,80v806M260.5,80v806M263.5,80v806M266.5,80v806M268.5,80v806M271.5,80v806M273.5,80v806M276.5,80v806M278.5,80v806M281.5,80v806M284.5,80v806M286.5,80v806M289.5,80v806M291.5,80v806M294.5,80v806M297.5,80v806M299.5,80v806M302.5,80v806M304.5,80v806M307.5,80v806M309.5,80v806M312.5,80v806M315.5,80v806M317.5,80v806M320.5,80v806M322.5,80v806M325.5,80v806M327.5,80v806M330.5,80v806M333.5,80v806M335.5,80v806M338.5,80v806M340.5,80v806M343.5,80v806M345.5,80v806M348.5,80v806M351.5,80v806M353.5,80v806M356.5,80v806M358.5,80v806M361.5,80v806M364.5,80v806M366.5,80v806M369.5,80v806M371.5,80v806M374.5,80v806M376.5,80v806M379.5,80v806M382.5,80v806M384.5,80v806M387.5,80v806M389.5,80v806M392.5,80v806M394.5,80v806M397.5,80v806M400.5,80v806M402.5,80v806M405.5,80v806M407.5,80v806M410.5,80v806M412.5,80v806M415.5,80v806M418.5,80v806M420.5,80v806M423.5,80v806M425.5,80v806M428.5,80v806M431.5,80v806M433.5,80v806M436.5,80v806M438.5,80v806M441.5,80v806M443.5,80v806M446.5,80v806M449.5,80v806M451.5,80v806M454.5,80v806M456.5,80v806M459.5,80v806M461.5,80v806M464.5,80v806M467.5,80v806M469.5,80v806M472.5,80v806M474.5,80v806M477.5,80v806M479.5,80v806M482.5,80v806M485.5,80v806M487.5,80v806M490.5,80v806M492.5,80v806M495.5,80v806M498.5,80v806M500.5,80v806M503.5,80v806M505.5,80v806M508.5,80v806M510.5,80v806M513.5,80v806M516.5,80v806M518.5,80v806M521.5,80v806M523.5,80v806M526.5,80v806M528.5,80v806M531.5,80v806M534.5,80v806M536.5,80v806M539.5,80v806M541.5,80v806M544.5,80v806M547.5,80v806M549.5,80v806M552.5,80v806M554.5,80v806M557.5,80v806M559.5,80v806M562.5,80v806M565.5,80v806M567.5,80v806M570.5,80v806M572.5,80v806M575.5,80v806M577.5,80v806M580.5,80v806M583.5,80v806M585.5,80v806M588.5,80v806M590.5,80v806M593.5,80v806M595.5,80v806M598.5,80v806M601.5,80v806M603.5,80v806M606.5,80v806M608.5,80v806M611.5,80v806M614.5,80v806M616.5,80v806M619.5,80v806M621.5,80v806M624.5,80v806M626.5,80v806M629.5,80v806M632.5,80v806M634.5,80v806M637.5,80v806M639.5,80v806M642.5,80v806M644.5,80v806M647.5,80v806M650.5,80v806M652.5,80v806M655.5,80v806M657.5,80v806M660.5,80v806M662.5,80v806M665.5,80v806M668.5,80v806M670.5,80v806M673.5,80v806M675.5,80v806M678.5,80v806M681.5,80v806M683.5,80v806M686.5,80v806M688.5,80v806M691.5,80v806M693.5,80v806M696.5,80v806M699.5,80v806M701.5,80v806M704.5,80v806M706.5,80v806M709.5,80v806M711.5,80v806M714.5,80v806M717.5,80v806M719.5,80v806M722.5,80v806M724.5,80v806M727.5,80v806M729.5,80v806M732.5,80v806M735.5,80v806M737.5,80v806M740.5,80v806M742.5,80v806M745.5,80v806M748.5,80v806M750.5,80v806M753.5,80v806M755.5,80v806M758.5,80v806M760.5,80v806M763.5,80v806M766.5,80v806M768.5,80v806M771.5,80v806M773.5,80v806M776.5,80v806M778.5,80v806M781.5,80v806M784.5,80v806M786.5,80v806M789.5,80v806M791.5,80v806M794.5,80v806M797.5,80v806M799.5,80v806M802.5,80v806M804.5,80v806M807.5,80v806M809.5,80v806M812.5,80v806M815.5,80v806M817.5,80v806M820.5,80v806M822.5,80v806M825.5,80v806M827.5,80v806M830.5,80v806M833.5,80v806M835.5,80v806M838.5,80v806M840.5,80v806M843.5,80v806M845.5,80v806M848.5,80v806M851.5,80v806M853.5,80v806M856.5,80v806M858.5,80v806M861.5,80v806M864.5,80v806M866.5,80v806M869.5,80v806M871.5,80v806M874.5,80v806M876.5,80v806M879.5,80v806M882.5,80v806M884.5,80v806M887.5,80v806M889.5,80v806M892.5,80v806M894.5,80v806M897.5,80v806M900.5,80v806M902.5,80v806M905.5,80v806M907.5,80v806M910.5,80v806M912.5,80v806M915.5,80v806M918.5,80v806M920.5,80v806M923.5,80v806M925.5,80v806M928.5,80v806M931.5,80v806M933.5,80v806M936.5,80v806M938.5,80v806M941.5,80v806M943.5,80v806M946.5,80v806M949.5,80v806M951.5,80v806M954.5,80v806M956.5,80v806M959.5,80v806M961.5,80v806M964.5,80v806M967.5,80v806M969.5,80v806M972.5,80v806M974.5,80v806M977.5,80v806M979.5,80v806M982.5,80v806M985.5,80v806M987.5,80v806M990.5,80v806M992.5,80v806M995.5,80v806M998.5,80v806M1000.5,80v806M1003.5,80v806M1005.5,80v806M1008.5,80v806M1010.5,80v806M1013.5,80v806M1016.5,80v806M1018.5,80v806M1021.5,80v806M1023.5,80v806M1026.5,80v806M1028.5,80v806M1031.5,80v806M1034.5,80v806M1036.5,80v806M1039.5,80v806M1041.5,80v806M1044.5,80v806M1047.5,80v806M1049.5,80v806M1052.5,80v806M1054.5,80v806M1057.5,80v806M1059.5,80v806M1062.5,80v806M1065.5,80v806M1067.5,80v806M1070.5,80v806M1072.5,80v806M1075.5,80v806M1077.5,80v806M1080.5,80v806M1083.5,80v806M1085.5,80v806M1088.5,80v806M1090.5,80v806M1093.5,80v806M1095.5,80v806M1098.5,80v806M1101.5,80v806M1103.5,80v806M1106.5,80v806M1108.5,80v806M1111.5,80v806" stroke="#fff" stroke-width="1" opacity="0.285" clip-path="url(#cp)" fill="none"/>
</g>
<rect x="112" y="268.70" width="1002" height="2" fill="#c8c8cd" opacity="0.11"/>
<rect x="112" y="474.00" width="1002" height="2" fill="#c8c8cd" opacity="0.11"/>
<rect x="112" y="679.65" width="1002" height="2" fill="#c8c8cd" opacity="0.11"/>
<g><clipPath id="wc"><circle cx="562.2" cy="507.2" r="67.6"/></clipPath><path d="M480,550.5 L650,498.2 L650,420 L480,420Z" fill="#f4603e" opacity="0.2" clip-path="url(#wc)"/><path d="M480,550.5 L650,498.2 L650,600 L480,600Z" fill="#1e1870" opacity="0.19" clip-path="url(#wc)"/><text x="666" y="539.9" font-family="Liberation Sans, sans-serif" font-weight="700" font-size="97" fill="#14142a" opacity="0.17" textLength="222" lengthAdjust="spacingAndGlyphs">Dune</text></g>
<rect x="112" y="885" width="1002" height="1.4" fill="#24242c"/>
</svg>
<div class="title">LRT Total Supply</div>
<div class="yl" style="top:253px">3m</div>
<div class="yl" style="top:458px">2m</div>
<div class="yl" style="top:664px">1m</div>
<div class="yl" style="top:868.5px">0</div>
<div class="xl" style="left:112.4px">Oct 2023</div>
<div class="xl" style="left:313.5px">Feb 2024</div>
<div class="xl" style="left:514px">Jun 2024</div>
<div class="xl" style="left:714.5px">Oct 2024</div>
<div class="xl" style="left:915px">Feb 2025</div>
<div class="lg">
<div class="li"><span style="letter-spacing:1.7px;margin-right:7.90px">All</span><i style="background:#606166"></i></div>
<div class="li"><span style="letter-spacing:1.25px;margin-right:8.35px">r<em class="as">*</em>eth</span><i style="background:#2f6be6"></i></div>
<div class="li"><span style="letter-spacing:1.0px;margin-right:8.60px">primeETH</span><i style="background:#cc2a27"></i></div>
<div class="li"><span style="letter-spacing:0.8px;margin-right:8.80px">pufETH</span><i style="background:#86f5e2"></i></div>
<div class="li"><span style="letter-spacing:1.2px;margin-right:8.4px">m<em class="as">*</em>eth</span><i style="background:#a0bcf8"></i></div>
<div class="li"><span style="letter-spacing:0.1px;margin-right:9.5px">in<em class="as">*</em>ETH</span><i style="background:#000"></i></div>
<div class="li"><span style="letter-spacing:0.88px;margin-right:8.72px">uniETH</span><i style="background:#5ba9f8"></i></div>
<div class="li"><span style="letter-spacing:0.86px;margin-right:8.74px">rswETH</span><i style="background:#160f5e"></i></div>
<div class="li"><span style="letter-spacing:0.38px;margin-right:9.22px">genETH</span><i style="background:#3b2e9b"></i></div>
<div class="li"><span style="letter-spacing:0.4px;margin-right:9.20px">csETH</span><i style="background:#5c10e6"></i></div>
<div class="li"><span style="letter-spacing:0.15px;margin-right:9.45px">ezETH</span><i style="background:#b8e653"></i></div>
<div class="li"><span style="letter-spacing:0.55px;margin-right:9.05px">rsETH</span><i style="background:#2a5c5a"></i></div>
<div class="li"><span style="letter-spacing:0.23px;margin-right:9.37px">eETH</span><i style="background:#dcc8fa"></i></div>
</div>
<div class="foot"><div class="hash">#</div><div>@hashed_official</div></div>
<svg class="dots" viewBox="0 0 24 6"><circle cx="3.2" cy="3" r="2.1" fill="#1b1c20"/><circle cx="11" cy="3" r="2.1" fill="#1b1c20"/><circle cx="18.8" cy="3" r="2.1" fill="#1b1c20"/></svg>
<div class="badge"><span>1mo</span><svg width="24" height="22" viewBox="0 0 24 22"><path d="M12 2.6 L21.6 19.2 Q22 20.2 20.9 20.2 L3.1 20.2 Q2 20.2 2.4 19.2 Z" fill="none" stroke="#8b5313" stroke-width="1.8" stroke-linejoin="round"/><rect x="11.2" y="8.6" width="1.6" height="5.6" fill="#8b5313"/><rect x="11.2" y="15.6" width="1.6" height="1.8" fill="#8b5313"/></svg></div>
</body>
</html>
